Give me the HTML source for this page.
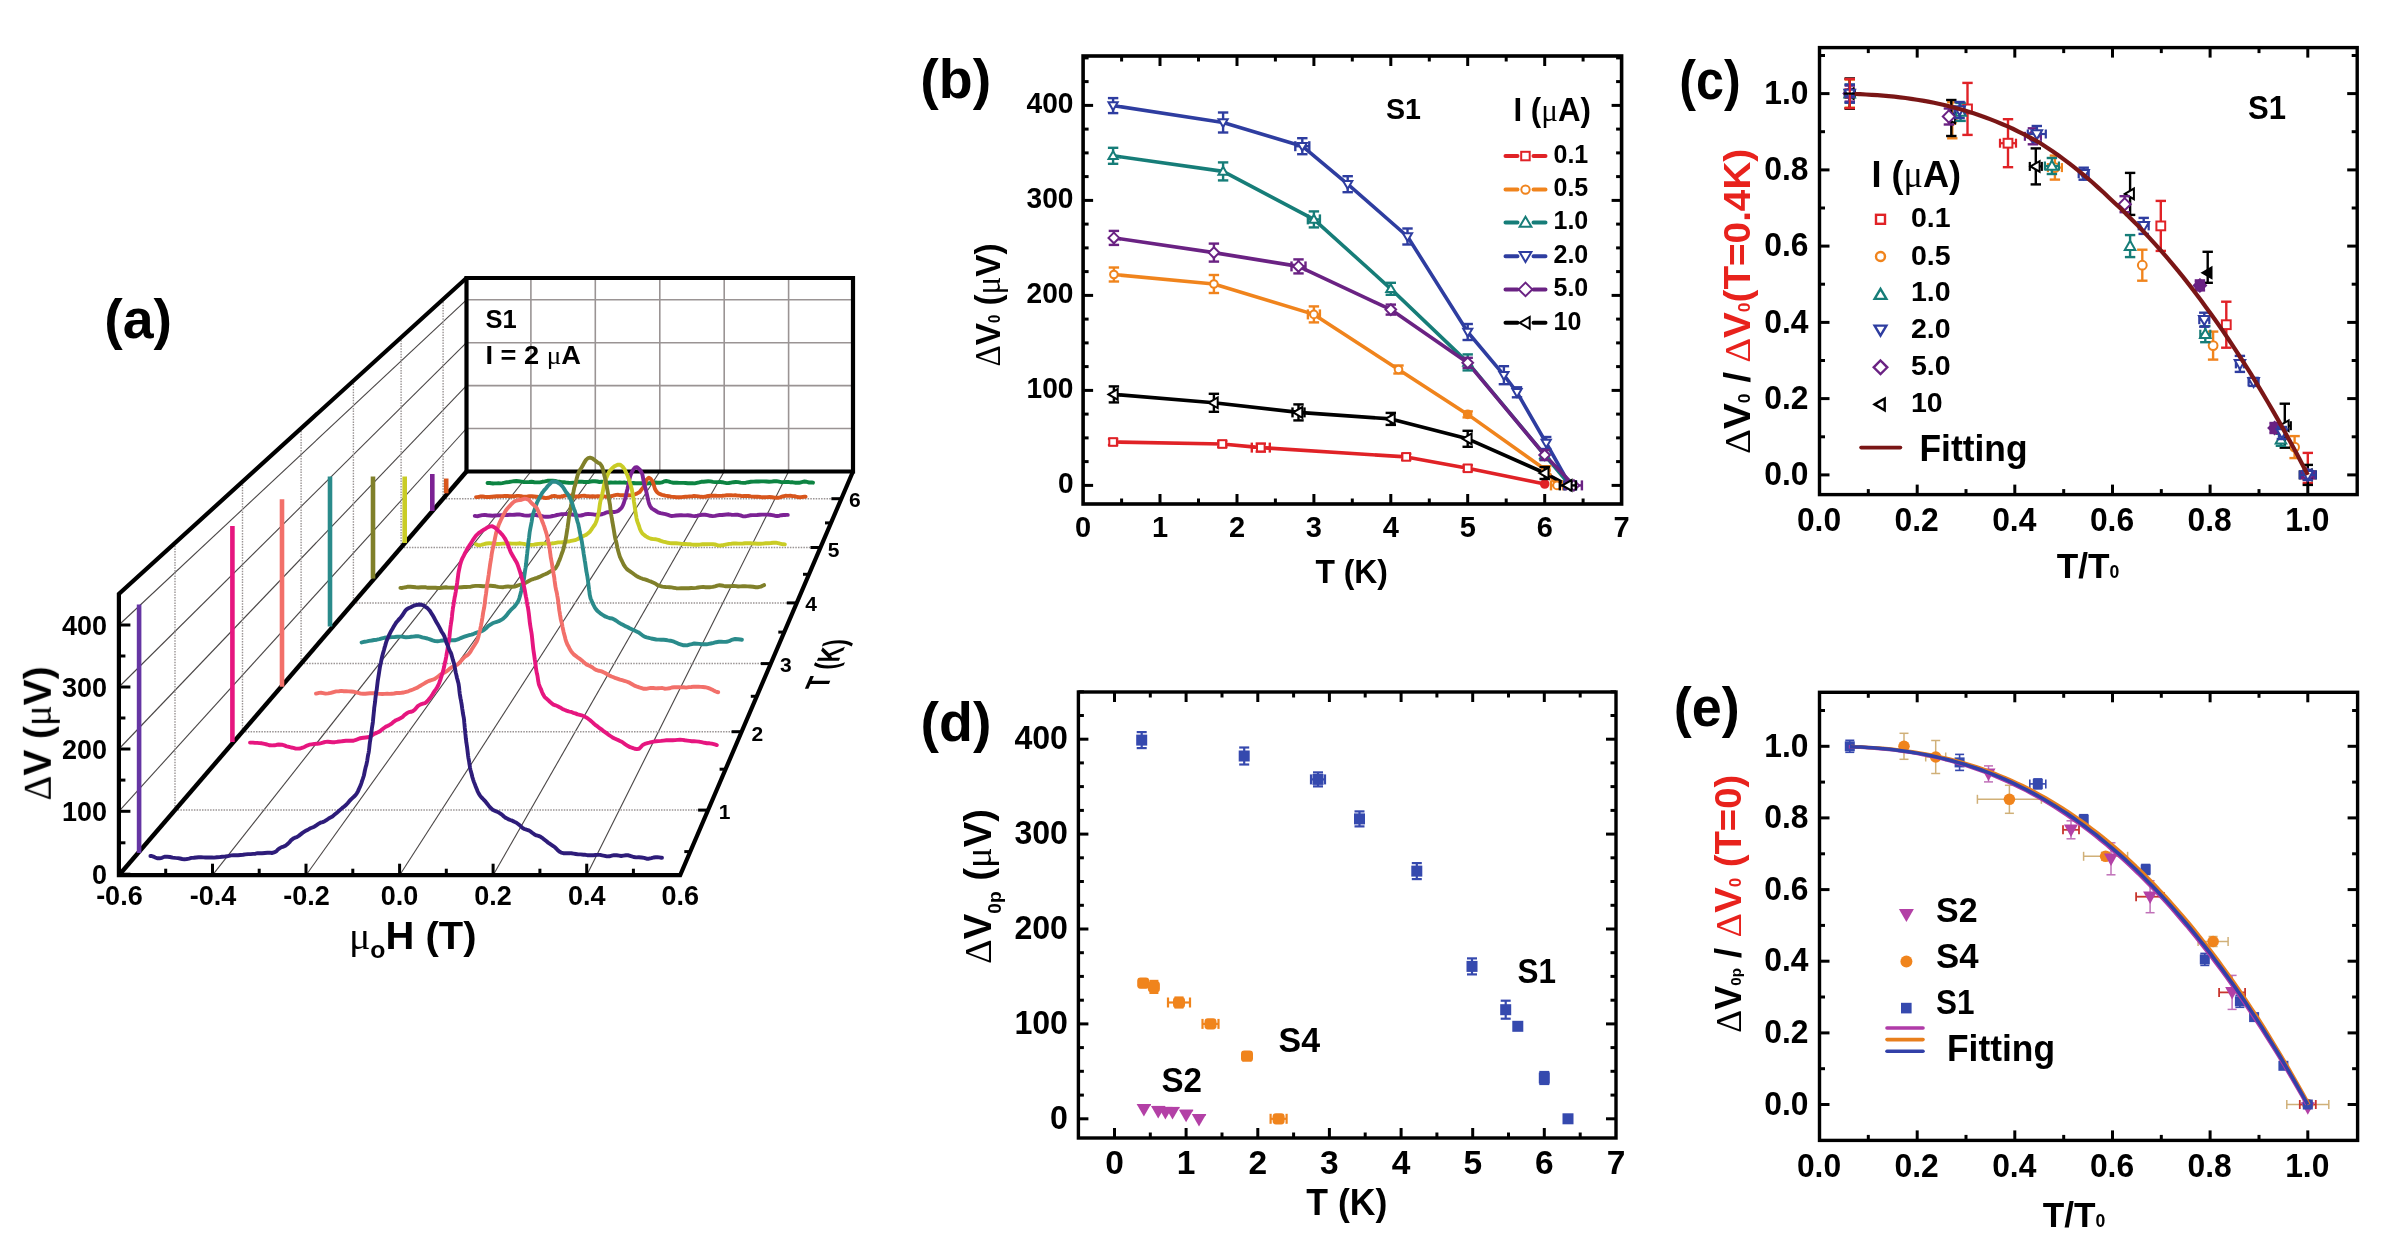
<!DOCTYPE html>
<html><head><meta charset="utf-8"><title>Figure</title>
<style>html,body{margin:0;padding:0;background:#fff;}svg{display:block;}text{font-family:"Liberation Sans",sans-serif;font-weight:bold;}</style></head><body>
<svg width="2395" height="1250" viewBox="0 0 2395 1250">
<defs><filter id="soft" x="0" y="0" width="2395" height="1250" filterUnits="userSpaceOnUse"><feGaussianBlur stdDeviation="0.45"/></filter></defs>
<rect width="2395" height="1250" fill="#fff"/>
<g filter="url(#soft)">
<g id="pa">
<line x1="530.9" y1="278" x2="530.9" y2="471.5" stroke="#9a9494" stroke-width="1.6" />
<line x1="595.3" y1="278" x2="595.3" y2="471.5" stroke="#9a9494" stroke-width="1.6" />
<line x1="659.8" y1="278" x2="659.8" y2="471.5" stroke="#9a9494" stroke-width="1.6" />
<line x1="724.2" y1="278" x2="724.2" y2="471.5" stroke="#9a9494" stroke-width="1.6" />
<line x1="788.6" y1="278" x2="788.6" y2="471.5" stroke="#9a9494" stroke-width="1.6" />
<line x1="466.5" y1="428.5" x2="853" y2="428.5" stroke="#9a9494" stroke-width="1.6" />
<line x1="466.5" y1="385.6" x2="853" y2="385.6" stroke="#9a9494" stroke-width="1.6" />
<line x1="466.5" y1="342.7" x2="853" y2="342.7" stroke="#9a9494" stroke-width="1.6" />
<line x1="466.5" y1="299.8" x2="853" y2="299.8" stroke="#9a9494" stroke-width="1.6" />
<line x1="118.9" y1="811.3" x2="466.5" y2="428.5" stroke="#4a4646" stroke-width="1.1" />
<line x1="118.9" y1="749" x2="466.5" y2="385.6" stroke="#4a4646" stroke-width="1.1" />
<line x1="118.9" y1="687" x2="466.5" y2="342.7" stroke="#4a4646" stroke-width="1.1" />
<line x1="118.9" y1="625" x2="466.5" y2="299.8" stroke="#4a4646" stroke-width="1.1" />
<line x1="175" y1="543" x2="175" y2="810.1" stroke="#9a9494" stroke-width="1.4" stroke-dasharray="1.5 1.2"/>
<line x1="242.5" y1="481.7" x2="242.5" y2="731.7" stroke="#9a9494" stroke-width="1.4" stroke-dasharray="1.5 1.2"/>
<line x1="301.1" y1="428.4" x2="301.1" y2="663.6" stroke="#9a9494" stroke-width="1.4" stroke-dasharray="1.5 1.2"/>
<line x1="353.4" y1="380.9" x2="353.4" y2="602.9" stroke="#9a9494" stroke-width="1.4" stroke-dasharray="1.5 1.2"/>
<line x1="401.1" y1="337.5" x2="401.1" y2="547.5" stroke="#9a9494" stroke-width="1.4" stroke-dasharray="1.5 1.2"/>
<line x1="443.1" y1="299.3" x2="443.1" y2="498.7" stroke="#9a9494" stroke-width="1.4" stroke-dasharray="1.5 1.2"/>
<line x1="212.5" y1="875.2" x2="530.9" y2="471.5" stroke="#4a4646" stroke-width="1.1" />
<line x1="306" y1="875.2" x2="595.3" y2="471.5" stroke="#4a4646" stroke-width="1.1" />
<line x1="399.6" y1="875.2" x2="659.8" y2="471.5" stroke="#4a4646" stroke-width="1.1" />
<line x1="493.1" y1="875.2" x2="724.2" y2="471.5" stroke="#4a4646" stroke-width="1.1" />
<line x1="586.7" y1="875.2" x2="788.6" y2="471.5" stroke="#4a4646" stroke-width="1.1" />
<line x1="175" y1="810.1" x2="708.1" y2="810.1" stroke="#9a9494" stroke-width="1.5" stroke-dasharray="1.5 1.2"/>
<line x1="242.5" y1="731.7" x2="741.6" y2="731.7" stroke="#9a9494" stroke-width="1.5" stroke-dasharray="1.5 1.2"/>
<line x1="301.1" y1="663.6" x2="770.8" y2="663.6" stroke="#9a9494" stroke-width="1.5" stroke-dasharray="1.5 1.2"/>
<line x1="353.4" y1="602.9" x2="796.8" y2="602.9" stroke="#9a9494" stroke-width="1.5" stroke-dasharray="1.5 1.2"/>
<line x1="401.1" y1="547.5" x2="820.5" y2="547.5" stroke="#9a9494" stroke-width="1.5" stroke-dasharray="1.5 1.2"/>
<line x1="443.1" y1="498.7" x2="841.4" y2="498.7" stroke="#9a9494" stroke-width="1.5" stroke-dasharray="1.5 1.2"/>
<path d="M466.5 471.5 L466.5 278 L853 278 L853 471.5 Z" fill="none" stroke="#000" stroke-width="4.2" stroke-linejoin="miter"/>
<path d="M466.5 278 L118.9 594 L118.9 875.2 L680.2 875.2 L853 471.5" fill="none" stroke="#000" stroke-width="4.2" stroke-linejoin="miter"/>
<line x1="118.9" y1="875.2" x2="466.5" y2="471.5" stroke="#000" stroke-width="4.4" />
<line x1="118.9" y1="874.2" x2="130.4" y2="874.2" stroke="#000" stroke-width="3" />
<line x1="118.9" y1="811.3" x2="130.4" y2="811.3" stroke="#000" stroke-width="3" />
<line x1="118.9" y1="749" x2="130.4" y2="749" stroke="#000" stroke-width="3" />
<line x1="118.9" y1="687" x2="130.4" y2="687" stroke="#000" stroke-width="3" />
<line x1="118.9" y1="625" x2="130.4" y2="625" stroke="#000" stroke-width="3" />
<line x1="118.9" y1="842.8" x2="125.4" y2="842.8" stroke="#000" stroke-width="3" />
<line x1="118.9" y1="780.1" x2="125.4" y2="780.1" stroke="#000" stroke-width="3" />
<line x1="118.9" y1="718" x2="125.4" y2="718" stroke="#000" stroke-width="3" />
<line x1="118.9" y1="656" x2="125.4" y2="656" stroke="#000" stroke-width="3" />
<line x1="165.7" y1="875.2" x2="165.7" y2="868.7" stroke="#000" stroke-width="3" />
<line x1="212.5" y1="875.2" x2="212.5" y2="863.7" stroke="#000" stroke-width="3" />
<line x1="259.2" y1="875.2" x2="259.2" y2="868.7" stroke="#000" stroke-width="3" />
<line x1="306" y1="875.2" x2="306" y2="863.7" stroke="#000" stroke-width="3" />
<line x1="352.8" y1="875.2" x2="352.8" y2="868.7" stroke="#000" stroke-width="3" />
<line x1="399.6" y1="875.2" x2="399.6" y2="863.7" stroke="#000" stroke-width="3" />
<line x1="446.3" y1="875.2" x2="446.3" y2="868.7" stroke="#000" stroke-width="3" />
<line x1="493.1" y1="875.2" x2="493.1" y2="863.7" stroke="#000" stroke-width="3" />
<line x1="539.9" y1="875.2" x2="539.9" y2="868.7" stroke="#000" stroke-width="3" />
<line x1="586.7" y1="875.2" x2="586.7" y2="863.7" stroke="#000" stroke-width="3" />
<line x1="633.4" y1="875.2" x2="633.4" y2="868.7" stroke="#000" stroke-width="3" />
<line x1="708.1" y1="810.1" x2="698.1" y2="810.1" stroke="#000" stroke-width="3" />
<line x1="741.6" y1="731.7" x2="731.6" y2="731.7" stroke="#000" stroke-width="3" />
<line x1="770.8" y1="663.6" x2="760.8" y2="663.6" stroke="#000" stroke-width="3" />
<line x1="796.8" y1="602.9" x2="786.8" y2="602.9" stroke="#000" stroke-width="3" />
<line x1="820.5" y1="547.5" x2="810.5" y2="547.5" stroke="#000" stroke-width="3" />
<line x1="841.4" y1="498.7" x2="831.4" y2="498.7" stroke="#000" stroke-width="3" />
<line x1="690.3" y1="851.6" x2="684.3" y2="851.6" stroke="#000" stroke-width="3" />
<line x1="725.6" y1="769.2" x2="719.6" y2="769.2" stroke="#000" stroke-width="3" />
<line x1="756.8" y1="696.3" x2="750.8" y2="696.3" stroke="#000" stroke-width="3" />
<line x1="784.3" y1="632.1" x2="778.3" y2="632.1" stroke="#000" stroke-width="3" />
<line x1="809" y1="574.3" x2="803" y2="574.3" stroke="#000" stroke-width="3" />
<line x1="831" y1="522.9" x2="825" y2="522.9" stroke="#000" stroke-width="3" />
<line x1="139.1" y1="604.4" x2="139.1" y2="853" stroke="#6535a3" stroke-width="4.6" />
<line x1="232.4" y1="525.9" x2="232.4" y2="742" stroke="#e6157f" stroke-width="4.6" />
<line x1="282" y1="499.3" x2="282" y2="686.7" stroke="#f26f6a" stroke-width="4.6" />
<line x1="330" y1="476.5" x2="330" y2="626.6" stroke="#2b8b8b" stroke-width="4.6" />
<line x1="373" y1="476.5" x2="373" y2="578.6" stroke="#80802a" stroke-width="4.6" />
<line x1="404.7" y1="476.5" x2="404.7" y2="543" stroke="#c9cc26" stroke-width="4.6" />
<line x1="432.3" y1="474" x2="432.3" y2="511" stroke="#7b2394" stroke-width="4.6" />
<line x1="446.2" y1="478.5" x2="446.2" y2="493.3" stroke="#d8561f" stroke-width="4.6" />
<path d="M487.5 483 L488.7 483 L490 483 L491.5 483.3 L493 483.5 L494.7 483.4 L496.5 483.4 L498.4 483.3 L500.4 483.4 L502.4 483.1 L504.6 482.7 L506.8 482.2 L509 482 L511.4 481.6 L513.8 481.2 L516.3 481 L518.8 481.2 L521.3 481.6 L523.9 482 L526.5 482.1 L529.1 482 L531.7 481.8 L534.4 482.2 L537 482.4 L539.6 482.4 L542.3 481.8 L544.9 481.4 L547.5 480.8 L550.1 480.7 L552.6 480.7 L555.1 481 L557.6 481.6 L560 481.8 L562.1 482.2 L564.3 482.3 L566.4 482.6 L568.6 482.8 L570.7 482.9 L572.9 482.8 L575.1 482.4 L577.3 481.9 L579.5 481.7 L581.7 481.6 L583.9 482 L586.1 482 L588.3 482 L590.6 481.5 L592.8 481.2 L595 481.3 L597.3 481.5 L599.5 482 L601.8 481.7 L604 482.2 L606.3 482.2 L608.5 482.8 L610.8 482.5 L613.1 482.6 L615.3 482.4 L617.6 482.6 L619.8 482.4 L622.1 482.6 L624.3 482.5 L626.6 482.9 L628.8 483 L631.1 483.3 L633.3 483 L635.5 483.3 L637.8 483.3 L640 483.2 L642.2 483.1 L644.4 483.2 L646.6 483.5 L648.8 483.3 L651 483 L653.2 482.7 L655.4 482.5 L657.5 482.7 L659.7 482.7 L661.9 482.4 L664 481.4 L666.2 481 L668.3 481.4 L670.5 482.2 L672.7 482.7 L674.8 482.7 L677 482.8 L679.2 482.9 L681.4 482.9 L683.6 482.9 L685.7 483 L687.9 483.2 L690.2 483.3 L692.4 483.2 L694.6 483.4 L696.8 482.9 L699.1 482.4 L701.3 481.8 L703.6 481.7 L705.9 481.5 L708.2 481.3 L710.5 481.4 L712.9 481.9 L715.2 482.1 L717.6 482.1 L720 481.9 L722.1 482.2 L724.2 482.7 L726.5 483.1 L728.7 483 L731.1 482.6 L733.4 482.2 L735.8 482 L738.3 482.1 L740.7 482.6 L743.3 482.9 L745.8 482.7 L748.3 482.2 L750.9 481.8 L753.5 481.6 L756.1 481.5 L758.7 481.5 L761.2 481.4 L763.8 481.4 L766.4 481.5 L769 481.8 L771.5 481.6 L774 481.3 L776.5 481.2 L779 481.7 L781.4 482.2 L783.8 482.1 L786.1 482 L788.4 481.9 L790.6 482.3 L792.8 482.3 L794.9 482.7 L797 482.6 L799 482.8 L800.9 482.3 L802.7 481.9 L804.5 481.5 L806.1 481.7 L807.7 482.1 L809.2 482.5 L810.6 482.5 L811.8 482.5 L813 482.7" fill="none" stroke="#0d8442" stroke-width="3.9" stroke-linejoin="round" stroke-linecap="round"/>
<path d="M476 497.1 L477.3 497.1 L478.8 496.8 L480.5 496.5 L482.5 496.5 L484.6 496.8 L486.9 497 L489.3 497 L491.8 496.7 L494.3 496.5 L496.9 496.3 L499.5 496.3 L502.2 496.1 L504.7 496 L507.3 495.9 L509.7 496.2 L512 496.3 L514.2 496.3 L516.5 495.9 L518.7 495.9 L520.9 496.1 L523 496.6 L525.2 496.6 L527.4 496.5 L529.6 496.3 L531.8 496.3 L534.1 496.5 L536.3 496.7 L538.6 496.9 L540.9 497.2 L543.2 497.5 L545.6 498.1 L548 497.8 L550.1 497.2 L552.2 496.1 L554.4 495.9 L556.7 496.4 L558.9 496.8 L561.2 496.5 L563.5 496 L565.9 495.4 L568.2 495.4 L570.5 495.6 L572.9 496.2 L575.2 496.5 L577.4 496.5 L579.7 496.2 L581.8 495.9 L584 495.8 L586.1 496 L588.1 496.1 L590 496.5 L592.7 496.3 L595.4 496.5 L598 496.1 L600.5 496.4 L603 496.2 L605.4 496.6 L607.7 496.5 L610 496.4 L612.1 496 L614.2 495.3 L616.2 494.9 L618.2 494.8 L620 495.2 L623.2 495.2 L626.1 495.4 L628.7 495.3 L631 495.4 L633.2 494.7 L635.1 494.3 L636.8 493.6 L639.7 492 L641.4 489.7 L642.8 487.9 L643.9 486.6 L644.8 484.7 L645.6 482.3 L646.4 479.9 L648.8 477.7 L650.5 478.6 L652.4 481.1 L653.2 483.1 L654.1 486 L654.9 488.7 L656 490.7 L657.4 492.5 L659 493.7 L662 494.8 L663.5 495.1 L665.1 495.6 L666.9 495.9 L668.9 496.2 L671.1 496.6 L673.7 496.9 L676.6 497.3 L680 497.2 L681.7 497.1 L683.5 496.9 L685.4 496.7 L687.4 496.6 L689.5 496.4 L691.7 496.4 L694 496 L696.3 496.1 L698.6 496.4 L701 496.8 L703.4 496.9 L705.9 496.5 L708.3 496 L710.7 495.7 L713.1 495.7 L715.4 495.8 L717.7 495.9 L720 495.9 L722.2 495.8 L724.4 495.6 L726.6 495.3 L728.8 495.2 L731 495.2 L733.1 495.4 L735.3 495.3 L737.5 495.6 L739.6 495.6 L741.8 496.1 L744 496 L746.3 496 L748.5 495.9 L750.7 496.4 L753 496.6 L755.3 496.8 L757.6 496.6 L760 496.9 L762.2 497.3 L764.5 497.3 L767 497.1 L769.5 496.9 L772.1 497.2 L774.7 497.6 L777.4 497.8 L780 497.3 L782.7 496.4 L785.3 495.8 L787.9 495.9 L790.4 495.8 L792.8 496.1 L795.1 496.3 L797.3 497 L799.3 497.2 L801.2 497.2 L802.9 496.9 L804.3 496.7 L805.6 496.6" fill="none" stroke="#d8561f" stroke-width="3.9" stroke-linejoin="round" stroke-linecap="round"/>
<path d="M474.8 515.9 L476.1 516.1 L477.9 516.2 L479.9 515.6 L482.2 515.1 L484.6 514.9 L487.2 515.3 L489.9 515.5 L492.5 515.7 L495.2 515.5 L497.7 515.4 L500 515.2 L502.4 515.3 L504.9 515 L507.3 515 L509.7 514.8 L512.1 514.9 L514.5 514.7 L516.8 514.5 L519.2 514.4 L521.6 514.8 L524 515.4 L526.4 515.6 L528.8 515.6 L531.2 515.2 L533.6 515 L536 515 L538.4 515.5 L540.8 515.9 L543.2 516.5 L545.6 516.7 L548 516.8 L550.3 516.6 L552.6 516 L554.8 515.6 L557 515 L559.2 514.6 L561.5 514.2 L563.9 514.1 L566.4 514 L569.1 514.2 L572 514.5 L574 514.9 L576.1 515.2 L578.4 515.6 L580.7 515.5 L583.2 515 L585.7 514.2 L588.2 513.9 L590.8 514.1 L593.3 514.4 L595.7 514.8 L598.1 514.6 L600.4 514.5 L602.6 514 L604.6 513.3 L606.4 512.4 L608 512.2 L612.1 511.9 L614.9 512 L616.9 511.4 L618.4 510.7 L620 509.3 L621.7 507.6 L622.9 505.4 L623.9 502.8 L624.8 499.8 L625.4 498 L625.9 495.8 L626.4 493.5 L626.9 491 L627.4 489.2 L627.9 486.9 L628.4 484.6 L629.1 480.7 L629.8 477.7 L630.5 475.3 L631.2 473.7 L632 471.9 L633.5 469.3 L635.2 467.4 L636.8 467.1 L638.4 468.3 L640.1 470 L641.6 472.6 L642.3 474.1 L642.8 476.7 L643.4 479.9 L644 483 L644.5 485.5 L645.2 487.4 L645.8 489.4 L646.4 492.2 L647.1 495.3 L647.8 498.5 L648.5 501.4 L649.2 504 L650 505.8 L651.7 508.3 L653.5 509.5 L656 511 L658 512.3 L660.4 513.2 L662.9 513.7 L665.5 514.2 L668 514.9 L670 515.6 L671.7 516 L673.5 515.9 L676.1 515.5 L680 515.2 L681.7 515.3 L683.5 515.4 L685.5 515.4 L687.7 515.3 L690 515.5 L692.3 515.9 L694.8 516.1 L697.3 515.7 L699.9 515.1 L702.5 514.7 L705.1 514.7 L707.6 515.1 L710.2 515.8 L712.6 516.1 L715 515.9 L717.3 515.4 L719.6 515 L722 515 L724.3 514.7 L726.6 514.5 L728.9 514.3 L731.2 514.7 L733.5 514.9 L735.8 514.7 L738.1 514.8 L740.5 515.4 L742.8 516.3 L745.2 516.4 L747.6 515.9 L750 515.3 L752.2 515.1 L754.5 515.1 L757 515 L759.5 514.8 L762.1 514.6 L764.7 514.6 L767.3 514.6 L769.8 514.7 L772.3 515.1 L774.8 515.7 L777.1 516 L779.4 515.7 L781.4 515.2 L783.4 515 L785.1 515 L786.6 514.9 L787.8 514.9" fill="none" stroke="#7b2394" stroke-width="3.9" stroke-linejoin="round" stroke-linecap="round"/>
<path d="M476 544.3 L477.4 544.9 L479.3 545.2 L481.4 544.8 L483.9 544.2 L486.5 543.5 L489.2 543.3 L492 543.4 L494.8 543.8 L497.5 544 L500 543.9 L502.4 543.6 L504.8 543.4 L507.2 543.5 L509.6 543.5 L512 543.6 L514.4 543.6 L516.8 543.7 L519.2 543.3 L521.6 543.6 L524 543.9 L526.4 544.7 L528.9 544.9 L531.4 544.9 L533.8 544.6 L536.3 544.2 L538.7 543.9 L541.2 543.6 L543.5 543.6 L545.8 543.6 L548 543.6 L550.7 543.6 L553.2 543.3 L555.8 542.8 L558.2 542.4 L560.6 542.4 L562.9 542.2 L565.1 542 L567.2 541.5 L569.9 541.2 L572.5 540.7 L575 540.2 L577.3 539.3 L579.5 538 L581.6 537 L583.9 535.7 L586 534.9 L587.8 533.5 L589.6 532 L591.2 529.9 L592.4 528 L593.6 526.3 L594.6 525 L595.5 523.3 L596.4 521.3 L597.2 518.4 L597.8 516.4 L598.2 514.5 L598.7 512.7 L599.1 510.1 L599.5 507.1 L599.9 504.1 L600.3 501.7 L600.8 499.8 L601.3 498 L601.9 495.9 L602.5 493.3 L603.1 490.2 L603.7 486.8 L604.4 483.7 L605 481.3 L605.6 479.7 L606.5 477.5 L607.4 475.3 L608.3 473.4 L609.3 471.4 L610.4 470.1 L612.6 467.8 L615.1 465.9 L617.6 464.7 L620 464.6 L622.5 466.5 L624.8 469.6 L625.7 471.9 L626.7 473.8 L627.6 475.8 L628.5 478.2 L629.3 480.6 L630.1 483.3 L630.8 485.4 L631.4 487.7 L631.9 489.6 L632.3 492.1 L632.7 494.3 L633.2 497 L633.6 499.3 L634 502 L634.4 504.3 L634.8 507.2 L635.2 510 L635.6 512.9 L636.1 515.6 L636.5 518.1 L636.9 520.1 L637.4 521.7 L638 523.3 L639 526 L639.9 529 L641.1 531.5 L642.4 533.5 L644 534.9 L646 536.4 L648.4 537.8 L650.9 538.8 L653.5 539.1 L656 539.3 L658.4 539.9 L660.8 540.9 L663.2 541.6 L665.6 542.2 L668 542.8 L670 543.1 L671.7 543.2 L673.5 543.1 L676.1 543.2 L680 543.6 L681.7 543.9 L683.5 544 L685.5 544 L687.7 544.2 L690 544.3 L692.3 544.6 L694.8 544.8 L697.3 544.8 L699.9 544.6 L702.5 544.3 L705.1 544.1 L707.6 544.2 L710.2 544.1 L712.6 544.1 L715 544.5 L717.3 545.1 L719.7 545.6 L722 545.3 L724.3 544.8 L726.7 544.3 L729 543.9 L731.3 543.7 L733.7 543.4 L736 543.5 L738.3 543.6 L740.7 543.6 L743 543.5 L745.3 543.2 L747.7 543.2 L750 543.2 L752.4 543.5 L754.9 543.5 L757.5 543.8 L760.2 543.8 L762.9 543.6 L765.6 543.3 L768.3 543.2 L770.9 543 L773.4 542.7 L775.8 542.6 L778 543.1 L780.1 543.7 L781.9 544.1 L783.5 544.2 L784.8 544.4" fill="none" stroke="#c9cc26" stroke-width="3.9" stroke-linejoin="round" stroke-linecap="round"/>
<path d="M400.4 587.9 L401.8 588 L403.5 587.6 L405.6 587.3 L407.9 586.7 L410.4 586.8 L413.1 587 L415.8 587.3 L418.5 587.5 L421.1 587.3 L423.6 587.3 L425.9 587.3 L428 587.8 L430.7 587.8 L433.2 587.8 L435.5 587.7 L437.6 588 L439.7 588 L441.7 587.8 L443.8 587.5 L446 587.3 L448.2 587.6 L450.4 587.6 L452.5 587.8 L454.6 587.6 L456.8 587.5 L459.1 587.4 L461.5 587.2 L464 587 L466.2 587 L468.4 586.9 L470.8 586.7 L473.2 586.1 L475.6 585.9 L478.1 585.9 L480.6 586 L483.1 586.2 L485.6 586.1 L488 585.9 L490.5 585.7 L493 586 L495.6 586.3 L498.2 586.9 L500.8 587.1 L503.3 587.2 L505.7 586.7 L508 586.4 L510.1 586.7 L512 586.8 L515.1 586.5 L517.3 585.6 L519.3 585 L521.3 584.4 L524 583.5 L525.9 582.7 L527.9 581.5 L530.1 580.3 L532.4 579.3 L534.8 578.5 L537.1 577.9 L539.3 576.9 L541.3 575.9 L543.2 575 L545.7 574 L547.9 572.9 L550 571.6 L551.8 570.6 L553.6 569.6 L555.2 568.6 L556.5 566.6 L557.7 564.5 L558.7 561.8 L559.7 559.6 L560.7 556.9 L561.5 554.5 L562.4 552 L562.9 550.7 L563.4 549.2 L563.9 547.3 L564.3 545.4 L564.7 543.5 L565.2 541.7 L565.6 539.6 L566 537.4 L566.4 535 L566.8 532.4 L567.2 529.9 L567.6 527.5 L567.9 525.1 L568.3 522.2 L568.7 519.4 L569 516.7 L569.4 514.4 L569.8 512.5 L570.2 510.6 L570.5 508.6 L570.9 506.4 L571.3 504.1 L571.6 501.7 L572 499.6 L572.5 496.8 L572.9 494.5 L573.4 492.2 L573.8 490.1 L574.2 488.1 L574.7 486.3 L575.2 484.8 L575.7 483 L576.2 480.8 L576.8 478.3 L577.7 475 L578.7 472.3 L579.8 470.1 L580.9 468.5 L582 466.9 L583 465 L584 463.1 L586 459.9 L588 458.1 L590 457.7 L592.4 458.4 L594.8 460.3 L597.2 462.1 L598.5 463 L599.7 463.4 L600.9 464.7 L602.1 466.7 L603.2 470.3 L603.7 472.7 L604.3 475.3 L604.8 477.2 L605.3 479.3 L605.8 481.1 L606.2 483.6 L606.7 486 L607.1 488.7 L607.6 491.1 L608 493.5 L608.4 495.7 L608.7 497.7 L609 499.5 L609.3 500.9 L609.6 502.7 L610 504.9 L610.3 507.7 L610.6 510.5 L610.9 512.9 L611.2 514.9 L611.6 517.2 L612 519.2 L612.3 521.5 L612.7 523.5 L613.1 525.8 L613.5 528.1 L613.9 530.5 L614.3 532.9 L614.7 535.4 L615.1 537.7 L615.5 539.5 L616 541 L616.4 542.6 L617 545.6 L617.5 548.1 L618.1 550.5 L618.7 552.7 L619.3 554.8 L619.9 556.8 L620.6 558.2 L621.5 560.2 L622.4 562 L623.8 564.9 L625.3 567.1 L626.9 569.1 L628.6 570.4 L630.4 571.6 L632.4 573 L634.4 574.5 L636.3 575.8 L638.3 577 L640.5 578 L642.6 578.8 L644.9 579.4 L647.1 580.2 L649.2 581 L651.2 581.7 L653.6 582.8 L655.6 583.7 L657.5 585.1 L659.7 585.9 L662.3 586.6 L665.6 587 L667.4 587.1 L669.4 587.2 L671.5 587.4 L673.8 587.8 L676.2 588.2 L678.6 588.4 L681.1 588.3 L683.6 588.3 L686.2 588.2 L688.7 588.3 L691.2 588 L693.6 588.1 L696 587.9 L698.3 587.5 L700.7 587.1 L703.1 586.9 L705.5 587.2 L707.9 587.1 L710.3 587.2 L712.7 586.8 L715 586.3 L717.3 585.6 L719.5 585.2 L721.6 585.5 L723.7 585.9 L725.6 586.2 L728.5 586.3 L731.2 586.1 L733.6 585.9 L736 586.1 L738.2 586.5 L740.4 586.4 L742.7 586.3 L745 586.2 L747.5 586.4 L750.2 586.5 L753 586.8 L755.8 587.2 L758.3 587.2 L760.7 586.7 L762.6 585.7 L764.1 585.1" fill="none" stroke="#80802a" stroke-width="3.9" stroke-linejoin="round" stroke-linecap="round"/>
<path d="M361.6 642.5 L363 642.1 L364.7 641.7 L366.8 641.4 L369.1 640.9 L371.6 640.5 L374.2 640 L376.8 639.7 L379.5 639.1 L382 638.3 L384.3 637.8 L386.8 637.5 L389.4 637.3 L392 637.1 L394.6 637 L397.2 636.8 L399.7 636.6 L402 636.6 L404.2 637 L406 637.2 L409.2 637.1 L411.2 636.8 L413 636.6 L416 636.2 L417.9 636.2 L420 636.6 L422.3 637.3 L424.8 637.9 L427.4 638.5 L430 639.4 L432.6 640.4 L435.1 641.1 L437.6 641.2 L440 640.9 L442.5 640.5 L445 640.4 L447.5 640.2 L449.9 640.3 L452.4 640.2 L454.7 640.3 L457 639.6 L459.2 638.8 L461.9 637.6 L464.4 636.7 L466.9 635.8 L469.2 635.2 L471.5 634.6 L473.8 633.8 L476 632.9 L478.2 632.2 L480.3 631.7 L482.3 631 L484.4 629.6 L486.4 627.9 L488.4 625.9 L490.4 624.6 L492.5 623.3 L494.6 622.5 L496.7 621.8 L498.8 621.2 L500.9 620.1 L502.9 618.9 L504.8 617.1 L506.7 615.1 L508.6 612.5 L510.4 610.4 L512.2 608.7 L513.9 607.1 L515.4 605.4 L516.8 603.4 L517.7 602 L518.6 600.4 L519.3 598.3 L520 595.9 L520.6 593.6 L521.2 591.1 L521.7 588.4 L522.3 586 L522.8 583.6 L523.2 582.3 L523.6 580.3 L524 578.5 L524.3 576 L524.6 573.9 L524.9 571.7 L525.2 569.9 L525.5 568.1 L525.8 565.9 L526.1 563.6 L526.4 560.6 L526.7 558.1 L526.9 555.7 L527.2 553.4 L527.4 551.4 L527.7 548.9 L527.9 546.8 L528.2 544.3 L528.4 542.3 L528.7 540.1 L529 538 L529.3 535.4 L529.6 532.8 L530 530.3 L530.4 528.2 L530.8 526.1 L531.2 524.1 L531.7 521.5 L532.1 518.7 L532.6 516 L533.1 513.9 L533.6 512.4 L534.2 510.8 L534.8 509.2 L535.4 507.1 L536 505.3 L537 502.6 L538.2 500.2 L539.4 497.8 L540.7 495.6 L541.9 493.3 L543.2 491.6 L544.4 490 L545.6 488.9 L547.8 486 L549.9 483.8 L551.9 481.8 L554 481.5 L556.1 481.7 L558.1 482.8 L560.2 484.1 L562.4 486.3 L563.6 488 L564.8 490 L566 492 L567.3 493.6 L568.5 495.6 L569.7 497.5 L570.9 500 L572 502.7 L572.7 505.1 L573.4 507.4 L574 509 L574.7 510.7 L575.3 512.5 L575.9 515.2 L576.5 518 L577.1 520.1 L577.6 522.1 L578.2 523.6 L578.7 526.1 L579.2 528.5 L579.7 531.5 L580.2 533.8 L580.6 536.3 L581 537.7 L581.4 539.5 L581.8 541.3 L582.2 544 L582.6 546.5 L582.9 548.7 L583.3 550.8 L583.6 553.2 L584 555.8 L584.4 558.1 L584.7 560.3 L585.1 562.3 L585.4 564.6 L585.7 566.7 L586 568.6 L586.3 571 L586.7 572.8 L587 574.7 L587.3 576 L587.6 578.1 L588 580.8 L588.3 583.9 L588.7 586.6 L589 589.3 L589.4 591.8 L589.7 594.6 L590.2 596.7 L590.6 598.5 L591.2 599.8 L592.3 602.6 L593.6 605.2 L595 607.8 L596.6 610 L598.4 611.8 L600 613.1 L601.8 614.3 L603.6 615.5 L605.7 616.7 L607.9 617.5 L610.4 618.3 L612.2 618.5 L614.2 619.5 L616.3 620.7 L618.4 622.3 L620.7 623.7 L622.9 624.8 L625.2 626.1 L627.4 627 L629.6 628.3 L631.7 629.3 L633.9 630.3 L636 631.2 L638.1 632.2 L640.3 633.7 L642.4 635.3 L644.5 636.6 L646.7 637.3 L648.8 637.8 L651.2 638.5 L653.7 639 L656.3 639.5 L658.8 639.6 L661.2 639.7 L663.6 639.8 L665.9 640 L668 640.4 L670.4 640.7 L672.2 641.2 L674 641.7 L675.8 642.5 L678.1 643.6 L681.2 644.6 L683 645.2 L684.9 645.3 L687.1 645.4 L689.4 644.7 L691.8 644.2 L694.3 643.5 L696.8 643.7 L699.3 643.9 L701.8 644.3 L704.2 644.3 L706.6 644.3 L708.8 643.9 L710.8 643.5 L713.6 642.9 L716.2 642.2 L718.8 641.8 L721.2 641.8 L723.6 641.9 L725.8 641.9 L727.9 641.5 L729.8 640.9 L731.6 639.8 L735.2 639 L738.1 639.2 L740.3 639.5 L741.9 639.7" fill="none" stroke="#2b8b8b" stroke-width="3.9" stroke-linejoin="round" stroke-linecap="round"/>
<path d="M316 693.6 L317.3 693.3 L319 692.9 L321 692.8 L323.2 693.1 L325.6 693.6 L328.2 693.4 L330.8 692.9 L333.5 692.1 L336.2 691.4 L338.9 691.2 L341.4 690.9 L343.8 691.2 L346 691.1 L348.6 691.4 L351.2 691.5 L353.6 691.7 L356 692.3 L358.4 692.9 L360.7 693.6 L363 693.7 L365.3 693.8 L367.6 693.5 L370 693.3 L372.4 693.2 L374.9 693.2 L377.4 693.6 L379.8 693.9 L382.3 694 L384.8 693.9 L387.2 693.7 L389.5 693.9 L391.8 693.7 L394 693.5 L396.6 693 L399.1 693 L401.5 692.8 L403.8 692.5 L406 691.8 L408.3 691.3 L410.6 690.3 L413 689.5 L415.2 688.5 L417.4 687.6 L419.6 686.2 L421.8 684.9 L424 683.6 L426.2 682.3 L428.4 681.1 L430.6 680.3 L432.8 679.7 L434.8 678.9 L436.7 677.5 L438.7 676.1 L440.6 674.5 L442.6 673.4 L444.5 672.5 L446.4 671.4 L448.3 670 L450.2 668.3 L452 667 L453.8 666.3 L455.6 665.6 L457.4 664.6 L459.2 663 L461 661 L462.7 659 L464.4 657.2 L465.9 656 L467.4 655.2 L468.8 653.8 L470.4 651.7 L471.8 649.3 L473.1 647.2 L474.4 645.2 L475.5 643.4 L476.5 641.9 L477.5 639.7 L478.4 636.9 L479 634.2 L479.6 631.8 L480.1 629.9 L480.5 628 L480.9 626.1 L481.3 623.8 L481.7 621.9 L482 619.9 L482.4 617.8 L482.8 615.1 L483.2 612.4 L483.5 610.9 L483.8 609.4 L484.2 607.5 L484.5 605.2 L484.8 602.9 L485.1 600.2 L485.4 597.8 L485.8 595.3 L486.1 593.3 L486.4 590.8 L486.7 588 L487 585.2 L487.4 582.9 L487.7 581.2 L488 579.4 L488.3 577.2 L488.7 574.7 L489 572.5 L489.3 570.3 L489.6 568.2 L489.9 565.9 L490.2 563.9 L490.6 561.7 L490.9 559.6 L491.3 557.2 L491.6 554.8 L492 552.4 L492.4 550.4 L492.8 548.5 L493.3 546.3 L493.8 543.9 L494.4 541.5 L494.9 538.7 L495.5 535.8 L496.1 533 L496.7 530.9 L497.3 529 L498 527.1 L498.6 525.1 L499.3 523.4 L500 521.9 L501.1 519.5 L502.2 517.3 L503.3 515 L504.5 512.9 L505.7 510.7 L507 509 L508.3 507.5 L509.6 506.1 L511.5 504 L513.5 502.1 L515.6 500.8 L517.7 500.3 L519.7 500 L521.6 499.7 L524.2 498.8 L526.6 498.9 L528.9 500 L531.2 502.6 L532.6 504.1 L534 505.3 L535.4 506.5 L536.9 508.2 L538.2 511.1 L539.6 514.2 L540.8 517.7 L541.6 519.6 L542.3 521.6 L543 523.1 L543.7 525.1 L544.4 526.9 L545 529.2 L545.7 531.1 L546.3 533.1 L546.9 535.3 L547.4 537.7 L548 540.2 L548.4 542.1 L548.9 544.1 L549.3 546.5 L549.7 549.1 L550 551.9 L550.4 554.5 L550.7 557.1 L551.1 559 L551.4 560.8 L551.7 562.4 L552.1 564.7 L552.4 567 L552.8 569.3 L553.2 571.3 L553.5 573.4 L553.9 575.6 L554.3 577.9 L554.6 580.7 L555 583.6 L555.4 586.4 L555.8 588.5 L556.1 590 L556.5 591.5 L556.9 593.3 L557.2 595.3 L557.6 597.5 L558 599.8 L558.3 602.4 L558.7 605.3 L559 608.1 L559.3 610.5 L559.7 612.6 L560 614.6 L560.4 616.8 L560.7 618.9 L561.1 620.5 L561.5 622.1 L562 623.9 L562.4 626.3 L563 629.1 L563.6 631.9 L564.2 634.2 L564.9 636.8 L565.5 639.3 L566.3 641.8 L567 643.6 L567.8 645.3 L568.7 646.8 L569.6 648.7 L571 651.1 L572.5 653 L574 654.6 L575.7 655.9 L577.5 657.3 L579.5 658.6 L581.6 660.2 L583.2 661.6 L585 663.2 L586.8 664.6 L588.8 665.5 L590.8 666.5 L592.8 667.7 L594.8 669.2 L596.8 670.2 L598.8 670.8 L600.8 671.1 L602.9 671.9 L605.1 673 L607.2 674.2 L609.3 675.4 L611.5 676.5 L613.6 677.3 L615.7 678.2 L617.9 678.9 L620 679.6 L622.1 680.2 L624.3 680.8 L626.5 681.5 L628.7 682.3 L630.8 683.5 L633 684.8 L635.1 685.9 L637.2 686.7 L639.2 687.4 L641.7 688.1 L643.9 688.8 L646.1 688.8 L648.3 688.3 L650.7 687.9 L653.2 688 L656 688.4 L658 688.2 L660.1 688.1 L662.3 688 L664.6 688.7 L667 688.6 L669.4 688.3 L671.8 687.5 L674.2 687.3 L676.6 687.3 L678.9 687.2 L681.2 687.4 L683.7 687.3 L686.2 687.6 L688.7 687.1 L691.3 687 L693.8 686.6 L696.2 686.8 L698.6 686.8 L700.8 686.9 L703 687 L704.9 687.2 L707.9 687.9 L710.6 688.9 L713 690.1 L715.1 691.3 L716.9 692 L718.2 692.2" fill="none" stroke="#f26f6a" stroke-width="3.9" stroke-linejoin="round" stroke-linecap="round"/>
<path d="M250 742.6 L251.3 742.6 L252.9 742.6 L254.9 742.9 L257.1 742.9 L259.4 743.1 L261.9 743.3 L264.5 743.9 L267.1 744.5 L269.7 745.3 L272.2 745.4 L274.6 745.3 L276.8 744.8 L278.8 744.5 L281.7 744.7 L284.3 745.4 L286.7 746.3 L289 746.8 L291.2 747.5 L293.4 747.9 L295.7 748.6 L298 748.6 L300.3 748.5 L302.6 747.7 L304.8 746.7 L307 745.6 L309.3 744.7 L311.7 744.3 L314.3 743.9 L317.2 743.7 L319.1 743.6 L321.2 743.2 L323.3 742.5 L325.5 741.9 L327.8 741.7 L330.1 742 L332.5 742.3 L334.8 742.2 L337.2 741.8 L339.5 741.5 L341.7 741.3 L343.9 741 L346 740.7 L348.4 740.6 L350.7 740.8 L352.9 740.8 L355.1 740.2 L357.2 739.4 L359.4 738.5 L361.5 738 L363.6 737.7 L365.7 737.5 L367.8 737.3 L370 736.6 L372 735.5 L374 734 L376 733.1 L378 732.3 L380 731.2 L382 729.6 L384 728 L386 726.6 L388 725.7 L390 724.6 L392 723.3 L394 721.6 L396 720.2 L398.1 719.4 L400.3 718.3 L402.4 717.1 L404.6 714.9 L406.8 713.3 L408.9 712.1 L410.9 711.8 L412.8 711.1 L414.7 709.7 L416.4 707.7 L418 705.9 L420.7 704.4 L423 703.7 L424.9 703.2 L426.6 701.9 L428.3 700.1 L430 698 L431.2 696.3 L432.4 694.5 L433.6 692.6 L434.7 690.9 L435.9 689.3 L436.9 687.7 L438 685.7 L439 683.5 L440 680.8 L440.7 678.8 L441.3 676.8 L441.9 675 L442.5 673.1 L443.1 671.2 L443.6 668.9 L444.2 666.5 L444.7 663.9 L445.3 661.5 L445.8 658.9 L446.3 656.3 L446.7 653.7 L447.2 651.1 L447.6 648.9 L447.9 646.4 L448.2 644.3 L448.6 642.1 L448.9 640.4 L449.2 638.6 L449.5 636.7 L449.7 634.2 L450 631.4 L450.3 628.7 L450.6 626.2 L450.9 624.3 L451.1 622.7 L451.4 621.2 L451.7 619.1 L452 616.4 L452.3 612.9 L452.7 610.1 L453 607.6 L453.4 605.6 L453.7 603.5 L454.1 601.2 L454.4 599 L454.7 597.1 L455.1 595.7 L455.4 593.6 L455.8 591.6 L456.1 589.1 L456.5 587.3 L456.8 585.3 L457.2 582.6 L457.6 579.4 L458 576.6 L458.3 573.9 L458.7 571.7 L459.1 569.7 L459.5 567.9 L459.9 565.9 L460.4 563.9 L461 562 L461.6 560.1 L462.6 557.9 L463.7 555.8 L464.8 553.5 L466.1 551.1 L467.4 548.5 L468.7 546.6 L470 544.6 L471.2 542.9 L472.8 540.1 L474.4 537.9 L476 535.7 L477.6 534.2 L479.2 532.6 L480.8 531.7 L483.2 530 L485.6 528.7 L488 527.1 L490.4 526.4 L492.3 526.2 L494.2 527.2 L496.2 528.6 L498.1 530.6 L500 532.3 L501.2 533.6 L502.4 534.8 L503.6 536.5 L504.8 538.3 L506 540.5 L507.2 542.9 L508.4 546 L509.6 549.2 L510.6 551.9 L511.6 553.8 L512.6 555.6 L513.6 557.2 L514.6 559.1 L515.5 560.5 L516.5 562.2 L517.4 564.1 L518.3 566.6 L519.2 569.3 L519.8 571.2 L520.5 573.4 L521.1 575.4 L521.7 577.8 L522.3 579.8 L522.8 581.9 L523.4 583.7 L523.9 586 L524.4 588.5 L525 591.5 L525.4 593.9 L525.9 596.6 L526.4 598.9 L526.8 601.5 L527.2 603.6 L527.5 605.6 L527.9 607.3 L528.2 609.2 L528.5 611.2 L528.8 613.4 L529.1 616 L529.4 618.8 L529.7 621.5 L530 623.9 L530.3 625.8 L530.6 627.7 L530.9 629.4 L531.2 631.2 L531.5 632.9 L531.8 635.1 L532.1 637.7 L532.4 640.7 L532.7 643.6 L533 646.5 L533.3 649.1 L533.6 651.3 L533.9 653.3 L534.2 655.3 L534.5 657.5 L534.8 659.6 L535.1 661.4 L535.4 663.5 L535.7 666 L536 668.6 L536.5 671.5 L536.9 673.6 L537.4 675.5 L537.8 678 L538.2 680.9 L538.7 683.4 L539.2 685.3 L539.7 686.4 L540.2 687.6 L540.8 688.8 L542 692 L543.2 694.6 L544.5 696.8 L546.1 698.3 L548 699.9 L549.6 701.5 L551.4 703.2 L553.4 704.6 L555.5 705.3 L557.7 706.2 L560 707.4 L562.4 708.9 L564.3 709.8 L566.4 710.6 L568.6 711.3 L570.9 711.8 L573.1 712.8 L575.4 713.4 L577.6 714.4 L579.7 714.8 L581.6 715.3 L583.9 716.2 L586.1 717.4 L588.1 718.7 L590.1 720.2 L592 721.9 L594 723.7 L596 725.4 L597.8 726.7 L599.6 728.1 L601.4 729.4 L603.2 730.8 L605 732.1 L606.8 733.4 L608.6 734.8 L610.4 736 L612.5 737.4 L614.6 738.5 L616.8 739.5 L618.9 740.4 L621 741.4 L623.1 742.7 L625 744.1 L627.6 745.8 L630.1 747.2 L632.4 747.9 L634.7 748.8 L636.8 749.1 L639 748.8 L640.7 747.1 L642.7 745 L645.7 743.6 L647.4 743.1 L649.3 742.7 L651.4 742.1 L653.6 741.6 L655.9 741.3 L658.4 741.1 L661 740.9 L663.6 740.6 L666.4 740.3 L668.4 740.3 L670.6 740.2 L672.8 740.2 L675.1 740.1 L677.5 739.9 L680 739.8 L682.4 739.9 L684.9 740.3 L687.2 740.6 L689.6 740.9 L691.8 741.2 L694 741.3 L696 741.4 L698.8 741.6 L701.6 742.2 L704.4 742.8 L707 743.2 L709.5 743.3 L711.7 743.7 L713.7 744.2 L715.5 744.7 L716.8 745.1" fill="none" stroke="#e6157f" stroke-width="3.9" stroke-linejoin="round" stroke-linecap="round"/>
<path d="M150.4 856 L151.7 856 L153.3 856.6 L155.2 857.5 L157.2 858.3 L159.5 858.3 L162 857.8 L164.5 856.8 L167.2 856.8 L169.9 857 L172.6 857.6 L175.3 857.9 L178 858.1 L180 858.5 L182.2 859 L184.4 859.3 L186.7 859 L189 858.6 L191.4 857.9 L193.8 857.8 L196.2 857.5 L198.6 857.3 L201 857.2 L203.4 857.4 L205.6 857.5 L207.9 857.5 L210 857.4 L212.1 857.5 L214 857.6 L216.9 857.3 L219.6 857.1 L222.1 856.7 L224.5 856.6 L226.8 856.3 L229 855.8 L231.2 855.4 L233.4 855.2 L235.7 855.3 L238 855.2 L240.4 855 L243 854.8 L245.5 854.4 L248.1 854.1 L250.6 854.1 L253.1 853.9 L255.5 853.7 L257.8 853.2 L260 853.1 L262 853.2 L264.9 853 L267.4 852.8 L269.7 852.6 L271.8 853 L274 852.4 L276.4 851.2 L278.1 849.3 L279.9 848.1 L281.7 847.1 L283.6 846.6 L285.4 845.7 L287.3 844.2 L289.3 842.4 L291.2 840.1 L293.2 838.6 L295 837.7 L296.8 837.1 L298.7 835.9 L300.6 834.4 L302.5 832.9 L304.4 831.7 L306.4 830.4 L308.4 829.4 L310.4 828.3 L312.4 827.5 L314.3 826.7 L316.3 825.3 L318.4 823.9 L320.5 822.7 L322.6 822.1 L324.7 821.2 L326.8 819.8 L328.7 818.5 L330.6 817.4 L332.4 816.5 L334 815.1 L336.6 813 L338.8 811.1 L340.7 809.4 L342.4 807.9 L344.2 806.5 L346 805 L347.6 803.2 L349.3 801.2 L351 799.4 L352.6 797.9 L354.1 796.5 L355.5 795.1 L356.8 793.3 L357.9 791.4 L358.9 789.1 L359.8 787.2 L360.6 785.3 L361.3 783.3 L362 781.1 L362.8 778.9 L363.3 777.4 L363.9 775.5 L364.4 773 L364.9 770.5 L365.4 768.4 L365.8 766.6 L366.3 765.1 L366.7 763.2 L367.2 760.8 L367.6 758 L368 755.7 L368.3 754.1 L368.7 752.3 L369 750.2 L369.3 747.6 L369.6 744.8 L369.9 742.3 L370.3 739.9 L370.6 737.9 L370.9 735.6 L371.2 733.3 L371.5 731.3 L371.8 729.2 L372 727.6 L372.3 725.8 L372.6 724.2 L372.9 721.9 L373.1 719.4 L373.4 716.5 L373.7 713.6 L374 710.8 L374.2 708.1 L374.5 705.9 L374.8 703.9 L375.1 701.8 L375.3 699.4 L375.6 696.8 L375.9 694.5 L376.1 692.6 L376.4 691.3 L376.7 689.9 L376.9 688.1 L377.2 685.5 L377.5 683 L377.8 680.6 L378.1 678.8 L378.4 676.9 L378.8 674.4 L379.2 671.7 L379.6 669.1 L380 666.7 L380.4 664.8 L380.9 662.6 L381.3 660.5 L381.8 658.2 L382.2 656.3 L382.7 654.5 L383.2 652.6 L383.9 650.2 L384.5 647.9 L385.2 645.6 L385.9 643.1 L386.6 640.9 L387.4 639 L388.3 637 L389.2 634.8 L390.2 632.8 L391.3 630.7 L392.5 628.8 L393.8 626.4 L395 624.5 L396.3 622.4 L397.6 621 L398.8 619.5 L400.4 617.9 L402 615.8 L403.6 613.4 L405.2 610.9 L406.8 609.2 L408.4 608.3 L410.8 607.2 L413.1 606 L415.5 605.1 L418 604.7 L419.8 604.5 L421.6 604.9 L423.5 605.4 L425.4 606.8 L427.5 608.2 L429.6 610.5 L430.6 611.9 L431.7 613.7 L432.9 615.6 L434.1 617.8 L435.3 620.1 L436.5 622.3 L437.7 624.3 L438.9 626.4 L440.1 628.6 L441.2 630.9 L442.3 632.7 L443.4 634.4 L444.4 636.4 L445.3 639.2 L446.1 641.7 L447 643.9 L447.8 645.7 L448.6 647.9 L449.3 649.8 L450.1 651.4 L450.8 652.7 L451.5 654.7 L452.2 657.2 L452.8 659.6 L453.5 661.9 L454.2 664.2 L454.8 667.3 L455.3 670 L455.7 672.4 L456.2 674.4 L456.6 676 L457 678 L457.5 679.8 L457.9 681.4 L458.3 682.7 L458.7 684.7 L459.1 687.6 L459.4 690.8 L459.8 694 L460.2 696.4 L460.5 698.4 L460.9 700 L461.2 701.9 L461.6 704.1 L461.9 706.3 L462.2 708.5 L462.6 710.9 L462.9 713.2 L463.2 714.8 L463.5 716.3 L463.8 717.8 L464.1 720.3 L464.3 722.9 L464.6 725.7 L464.8 728 L465.1 730.6 L465.3 733.2 L465.6 735.9 L465.8 738.3 L466.1 740.3 L466.3 742.4 L466.6 743.9 L466.9 746.1 L467.2 748.1 L467.5 750.7 L467.8 753.3 L468.1 755.8 L468.4 757.8 L468.7 759.4 L469 760.9 L469.3 763.1 L469.7 765.5 L470.1 768.1 L470.5 769.9 L471 771.7 L471.7 774.2 L472.4 777.2 L473.2 779.8 L474 782.1 L474.8 784.1 L475.7 786.5 L476.7 788.9 L477.7 791.5 L478.8 793.7 L479.9 795.3 L481.2 797.1 L482.6 798.5 L484.1 800.1 L485.6 801.7 L487.2 803.7 L488.9 805.9 L490.7 808 L492.6 809.7 L494.7 810.7 L496.4 811.5 L498.1 812.1 L500 813.3 L501.9 814.6 L503.9 816.5 L506 818.1 L508.1 819.1 L510.2 820 L512.3 820.7 L514.3 821.8 L516.4 822.7 L518.4 824.2 L520.4 825.8 L522.4 827.8 L524.4 829 L526.5 829.7 L528.5 830.3 L530.5 831.4 L532.5 833 L534.5 834.4 L536.5 835.4 L538.4 835.9 L540.3 836.6 L542.1 837.8 L544.2 839.5 L546.2 841.1 L548.1 842.6 L550 843.9 L551.8 845.1 L553.6 846.3 L555.5 847.8 L557.3 849.7 L559.3 851.5 L561.3 852.7 L563.3 853.2 L565.3 853.2 L567.3 853.2 L569.3 853.1 L571.4 853.3 L573.5 853.6 L575.8 854 L578.2 854.4 L580.7 854.4 L583.5 854.7 L585.3 854.8 L587.3 855.2 L589.2 855.2 L591.3 855.3 L593.4 855.2 L595.5 855 L597.8 854.9 L600 854.9 L602.3 855.4 L604.6 855.8 L607 856.4 L609.4 856.3 L611.8 855.7 L614.2 855.1 L616.6 855.2 L619.1 855.6 L621.2 856 L623.5 855.6 L625.9 855.3 L628.4 855.3 L631 856.2 L633.6 857 L636.2 857.4 L638.8 857.3 L641.5 857.5 L644.1 857.9 L646.6 858.7 L649 858.7 L651.4 858.2 L653.6 857.5 L655.7 857.2 L657.6 857.3 L659.3 857.4 L660.7 857.7 L662 857.7" fill="none" stroke="#2e1f7a" stroke-width="3.9" stroke-linejoin="round" stroke-linecap="round"/>
<text x="107" y="884" font-size="27" text-anchor="end" fill="#000" >0</text>
<text x="107" y="821.1" font-size="27" text-anchor="end" fill="#000" >100</text>
<text x="107" y="758.8" font-size="27" text-anchor="end" fill="#000" >200</text>
<text x="107" y="696.8" font-size="27" text-anchor="end" fill="#000" >300</text>
<text x="107" y="634.8" font-size="27" text-anchor="end" fill="#000" >400</text>
<text x="119.4" y="905" font-size="27" text-anchor="middle" fill="#000" >-0.6</text>
<text x="213" y="905" font-size="27" text-anchor="middle" fill="#000" >-0.4</text>
<text x="306.5" y="905" font-size="27" text-anchor="middle" fill="#000" >-0.2</text>
<text x="399.6" y="905" font-size="27" text-anchor="middle" fill="#000" >0.0</text>
<text x="493.1" y="905" font-size="27" text-anchor="middle" fill="#000" >0.2</text>
<text x="586.7" y="905" font-size="27" text-anchor="middle" fill="#000" >0.4</text>
<text x="680.2" y="905" font-size="27" text-anchor="middle" fill="#000" >0.6</text>
<text x="854.8" y="507.2" font-size="21" text-anchor="middle" fill="#000" >6</text>
<text x="833.6" y="556.6" font-size="21" text-anchor="middle" fill="#000" >5</text>
<text x="811.1" y="611.4" font-size="21" text-anchor="middle" fill="#000" >4</text>
<text x="785.9" y="671.9" font-size="21" text-anchor="middle" fill="#000" >3</text>
<text x="757.3" y="741.4" font-size="21" text-anchor="middle" fill="#000" >2</text>
<text x="724.7" y="818.8" font-size="21" text-anchor="middle" fill="#000" >1</text>
<text x="485.5" y="327.5" font-size="25.5" text-anchor="start" fill="#000" >S1</text>
<text x="485.5" y="364" font-size="25.5" text-anchor="start" fill="#000" textLength="95.5" lengthAdjust="spacingAndGlyphs" >I = 2 <tspan font-family="Liberation Serif" font-weight="normal" font-size="1.0em">μ</tspan>A</text>
<text x="412.7" y="948.5" font-size="38" text-anchor="middle" fill="#000" textLength="127.5" lengthAdjust="spacingAndGlyphs" ><tspan font-family="Liberation Serif" font-weight="normal" font-size="1.0em">μ</tspan><tspan font-size="23.6" dy="9.5">o</tspan><tspan dy="-9.5">H (T)</tspan></text>
<text x="50.3" y="733.5" font-size="39.5" text-anchor="middle" fill="#000" textLength="134" lengthAdjust="spacingAndGlyphs" transform="rotate(-90 50.3 733.5)" ><tspan font-family="Liberation Serif" font-weight="normal" font-size="1.0em">Δ</tspan>V (<tspan font-family="Liberation Serif" font-weight="normal" font-size="1.0em">μ</tspan>V)</text>
<text transform="matrix(0.394 -0.919 1.345 0 837.5 664)" x="0" y="0" font-size="23.8" text-anchor="middle">T (K)</text>
<text x="138.2" y="338.3" font-size="55.5" text-anchor="middle" fill="#000" >(a)</text>
</g>
<g id="pb">
<path d="M1113.1 442 L1222.3 444 L1260.8 447.6 L1406.2 456.9 L1467.7 468.3 L1544.7 484" fill="none" stroke="#e02128" stroke-width="3.6" stroke-linejoin="round"/>
<path d="M1113.9 274.5 L1213.9 284 L1313.9 314.4 L1398.5 369.5 L1467.7 414.4 L1546.2 470.2 L1557 485.4" fill="none" stroke="#f0841f" stroke-width="3.6" stroke-linejoin="round"/>
<path d="M1113.1 155.8 L1223.1 171.4 L1313.9 219.4 L1390.8 288.8 L1467.7 362.4 L1544.7 455 L1570.1 485.4" fill="none" stroke="#177d78" stroke-width="3.6" stroke-linejoin="round"/>
<path d="M1113.1 105.6 L1223.1 122.5 L1302.3 146.2 L1347.7 184.2 L1407.5 236.5 L1467.7 332 L1503.9 375.2 L1517 392.3 L1546.2 443 L1570.1 485.4" fill="none" stroke="#2f3da0" stroke-width="3.6" stroke-linejoin="round"/>
<path d="M1113.9 237.9 L1213.9 252.6 L1298.5 266.4 L1390.8 309.6 L1467.7 362.8 L1544.7 455 L1573.9 485.4" fill="none" stroke="#6a2283" stroke-width="3.6" stroke-linejoin="round"/>
<path d="M1113.9 394.4 L1213.9 402.8 L1298.5 412.4 L1390.8 418.9 L1467.7 438.8 L1544.7 473 L1567.8 485.4" fill="none" stroke="#000" stroke-width="3.6" stroke-linejoin="round"/>
<line x1="1113.1" y1="439" x2="1113.1" y2="445" stroke="#e02128" stroke-width="2.4" />
<line x1="1107.9" y1="439" x2="1118.3" y2="439" stroke="#e02128" stroke-width="2.4" />
<line x1="1107.9" y1="445" x2="1118.3" y2="445" stroke="#e02128" stroke-width="2.4" />
<rect x="1109.3" y="438.2" width="7.6" height="7.6" fill="#fff" stroke="#e02128" stroke-width="2"/>
<line x1="1222.3" y1="441" x2="1222.3" y2="447" stroke="#e02128" stroke-width="2.4" />
<line x1="1217.1" y1="441" x2="1227.5" y2="441" stroke="#e02128" stroke-width="2.4" />
<line x1="1217.1" y1="447" x2="1227.5" y2="447" stroke="#e02128" stroke-width="2.4" />
<rect x="1218.5" y="440.2" width="7.6" height="7.6" fill="#fff" stroke="#e02128" stroke-width="2"/>
<line x1="1260.8" y1="443.6" x2="1260.8" y2="451.6" stroke="#e02128" stroke-width="2.4" />
<line x1="1255.6" y1="443.6" x2="1266" y2="443.6" stroke="#e02128" stroke-width="2.4" />
<line x1="1255.6" y1="451.6" x2="1266" y2="451.6" stroke="#e02128" stroke-width="2.4" />
<line x1="1251.8" y1="447.6" x2="1269.8" y2="447.6" stroke="#e02128" stroke-width="2.4" />
<line x1="1251.8" y1="442.6" x2="1251.8" y2="452.6" stroke="#e02128" stroke-width="2.4" />
<line x1="1269.8" y1="442.6" x2="1269.8" y2="452.6" stroke="#e02128" stroke-width="2.4" />
<rect x="1257" y="443.8" width="7.6" height="7.6" fill="#fff" stroke="#e02128" stroke-width="2"/>
<line x1="1406.2" y1="453.9" x2="1406.2" y2="459.9" stroke="#e02128" stroke-width="2.4" />
<line x1="1401" y1="453.9" x2="1411.4" y2="453.9" stroke="#e02128" stroke-width="2.4" />
<line x1="1401" y1="459.9" x2="1411.4" y2="459.9" stroke="#e02128" stroke-width="2.4" />
<rect x="1402.4" y="453.1" width="7.6" height="7.6" fill="#fff" stroke="#e02128" stroke-width="2"/>
<line x1="1467.7" y1="465.3" x2="1467.7" y2="471.3" stroke="#e02128" stroke-width="2.4" />
<line x1="1462.5" y1="465.3" x2="1472.9" y2="465.3" stroke="#e02128" stroke-width="2.4" />
<line x1="1462.5" y1="471.3" x2="1472.9" y2="471.3" stroke="#e02128" stroke-width="2.4" />
<rect x="1463.9" y="464.5" width="7.6" height="7.6" fill="#fff" stroke="#e02128" stroke-width="2"/>
<circle cx="1544.7" cy="484" r="3.8" fill="#e02128" stroke="#e02128" stroke-width="2"/>
<line x1="1113.9" y1="267.5" x2="1113.9" y2="281.5" stroke="#f0841f" stroke-width="2.4" />
<line x1="1108.7" y1="267.5" x2="1119.1" y2="267.5" stroke="#f0841f" stroke-width="2.4" />
<line x1="1108.7" y1="281.5" x2="1119.1" y2="281.5" stroke="#f0841f" stroke-width="2.4" />
<circle cx="1113.9" cy="274.5" r="3.8" fill="#fff" stroke="#f0841f" stroke-width="2"/>
<line x1="1213.9" y1="275" x2="1213.9" y2="293" stroke="#f0841f" stroke-width="2.4" />
<line x1="1208.7" y1="275" x2="1219.1" y2="275" stroke="#f0841f" stroke-width="2.4" />
<line x1="1208.7" y1="293" x2="1219.1" y2="293" stroke="#f0841f" stroke-width="2.4" />
<circle cx="1213.9" cy="284" r="3.8" fill="#fff" stroke="#f0841f" stroke-width="2"/>
<line x1="1313.9" y1="306.4" x2="1313.9" y2="322.4" stroke="#f0841f" stroke-width="2.4" />
<line x1="1308.7" y1="306.4" x2="1319.1" y2="306.4" stroke="#f0841f" stroke-width="2.4" />
<line x1="1308.7" y1="322.4" x2="1319.1" y2="322.4" stroke="#f0841f" stroke-width="2.4" />
<line x1="1307.9" y1="314.4" x2="1319.9" y2="314.4" stroke="#f0841f" stroke-width="2.4" />
<line x1="1307.9" y1="309.4" x2="1307.9" y2="319.4" stroke="#f0841f" stroke-width="2.4" />
<line x1="1319.9" y1="309.4" x2="1319.9" y2="319.4" stroke="#f0841f" stroke-width="2.4" />
<circle cx="1313.9" cy="314.4" r="3.8" fill="#fff" stroke="#f0841f" stroke-width="2"/>
<line x1="1398.5" y1="365.5" x2="1398.5" y2="373.5" stroke="#f0841f" stroke-width="2.4" />
<line x1="1393.3" y1="365.5" x2="1403.7" y2="365.5" stroke="#f0841f" stroke-width="2.4" />
<line x1="1393.3" y1="373.5" x2="1403.7" y2="373.5" stroke="#f0841f" stroke-width="2.4" />
<circle cx="1398.5" cy="369.5" r="3.8" fill="#fff" stroke="#f0841f" stroke-width="2"/>
<line x1="1467.7" y1="411.4" x2="1467.7" y2="417.4" stroke="#f0841f" stroke-width="2.4" />
<line x1="1462.5" y1="411.4" x2="1472.9" y2="411.4" stroke="#f0841f" stroke-width="2.4" />
<line x1="1462.5" y1="417.4" x2="1472.9" y2="417.4" stroke="#f0841f" stroke-width="2.4" />
<circle cx="1467.7" cy="414.4" r="3.8" fill="#f0841f" stroke="#f0841f" stroke-width="2"/>
<line x1="1546.2" y1="466.2" x2="1546.2" y2="474.2" stroke="#f0841f" stroke-width="2.4" />
<line x1="1541" y1="466.2" x2="1551.4" y2="466.2" stroke="#f0841f" stroke-width="2.4" />
<line x1="1541" y1="474.2" x2="1551.4" y2="474.2" stroke="#f0841f" stroke-width="2.4" />
<circle cx="1546.2" cy="470.2" r="3.8" fill="#fff" stroke="#f0841f" stroke-width="2"/>
<line x1="1551" y1="485.4" x2="1563" y2="485.4" stroke="#f0841f" stroke-width="2.4" />
<line x1="1551" y1="480.4" x2="1551" y2="490.4" stroke="#f0841f" stroke-width="2.4" />
<line x1="1563" y1="480.4" x2="1563" y2="490.4" stroke="#f0841f" stroke-width="2.4" />
<circle cx="1557" cy="485.4" r="3.8" fill="#fff" stroke="#f0841f" stroke-width="2"/>
<line x1="1113.1" y1="147.8" x2="1113.1" y2="163.8" stroke="#177d78" stroke-width="2.4" />
<line x1="1107.9" y1="147.8" x2="1118.3" y2="147.8" stroke="#177d78" stroke-width="2.4" />
<line x1="1107.9" y1="163.8" x2="1118.3" y2="163.8" stroke="#177d78" stroke-width="2.4" />
<path d="M1113.1 151.2 L1117.7 159.1 L1108.5 159.1 Z" fill="#fff" stroke="#177d78" stroke-width="2" stroke-linejoin="miter"/>
<line x1="1223.1" y1="162.4" x2="1223.1" y2="180.4" stroke="#177d78" stroke-width="2.4" />
<line x1="1217.9" y1="162.4" x2="1228.3" y2="162.4" stroke="#177d78" stroke-width="2.4" />
<line x1="1217.9" y1="180.4" x2="1228.3" y2="180.4" stroke="#177d78" stroke-width="2.4" />
<path d="M1223.1 166.8 L1227.7 174.7 L1218.5 174.7 Z" fill="#fff" stroke="#177d78" stroke-width="2" stroke-linejoin="miter"/>
<line x1="1313.9" y1="211.4" x2="1313.9" y2="227.4" stroke="#177d78" stroke-width="2.4" />
<line x1="1308.7" y1="211.4" x2="1319.1" y2="211.4" stroke="#177d78" stroke-width="2.4" />
<line x1="1308.7" y1="227.4" x2="1319.1" y2="227.4" stroke="#177d78" stroke-width="2.4" />
<line x1="1307.9" y1="219.4" x2="1319.9" y2="219.4" stroke="#177d78" stroke-width="2.4" />
<line x1="1307.9" y1="214.4" x2="1307.9" y2="224.4" stroke="#177d78" stroke-width="2.4" />
<line x1="1319.9" y1="214.4" x2="1319.9" y2="224.4" stroke="#177d78" stroke-width="2.4" />
<path d="M1313.9 214.8 L1318.5 222.7 L1309.3 222.7 Z" fill="#fff" stroke="#177d78" stroke-width="2" stroke-linejoin="miter"/>
<line x1="1390.8" y1="282.8" x2="1390.8" y2="294.8" stroke="#177d78" stroke-width="2.4" />
<line x1="1385.6" y1="282.8" x2="1396" y2="282.8" stroke="#177d78" stroke-width="2.4" />
<line x1="1385.6" y1="294.8" x2="1396" y2="294.8" stroke="#177d78" stroke-width="2.4" />
<path d="M1390.8 284.2 L1395.4 292.1 L1386.2 292.1 Z" fill="#fff" stroke="#177d78" stroke-width="2" stroke-linejoin="miter"/>
<line x1="1467.7" y1="354.4" x2="1467.7" y2="370.4" stroke="#177d78" stroke-width="2.4" />
<line x1="1462.5" y1="354.4" x2="1472.9" y2="354.4" stroke="#177d78" stroke-width="2.4" />
<line x1="1462.5" y1="370.4" x2="1472.9" y2="370.4" stroke="#177d78" stroke-width="2.4" />
<path d="M1467.7 357.8 L1472.3 365.7 L1463.2 365.7 Z" fill="#fff" stroke="#177d78" stroke-width="2" stroke-linejoin="miter"/>
<line x1="1544.7" y1="450" x2="1544.7" y2="460" stroke="#177d78" stroke-width="2.4" />
<line x1="1539.5" y1="450" x2="1549.9" y2="450" stroke="#177d78" stroke-width="2.4" />
<line x1="1539.5" y1="460" x2="1549.9" y2="460" stroke="#177d78" stroke-width="2.4" />
<path d="M1544.7 450.4 L1549.3 458.3 L1540.1 458.3 Z" fill="#fff" stroke="#177d78" stroke-width="2" stroke-linejoin="miter"/>
<line x1="1565.1" y1="485.4" x2="1575.1" y2="485.4" stroke="#177d78" stroke-width="2.4" />
<line x1="1565.1" y1="480.4" x2="1565.1" y2="490.4" stroke="#177d78" stroke-width="2.4" />
<line x1="1575.1" y1="480.4" x2="1575.1" y2="490.4" stroke="#177d78" stroke-width="2.4" />
<path d="M1570.1 480.8 L1574.6 488.7 L1565.5 488.7 Z" fill="#fff" stroke="#177d78" stroke-width="2" stroke-linejoin="miter"/>
<line x1="1113.1" y1="98.1" x2="1113.1" y2="113.1" stroke="#2f3da0" stroke-width="2.4" />
<line x1="1107.9" y1="98.1" x2="1118.3" y2="98.1" stroke="#2f3da0" stroke-width="2.4" />
<line x1="1107.9" y1="113.1" x2="1118.3" y2="113.1" stroke="#2f3da0" stroke-width="2.4" />
<path d="M1113.1 110.2 L1117.7 102.3 L1108.5 102.3 Z" fill="#fff" stroke="#2f3da0" stroke-width="2" stroke-linejoin="miter"/>
<line x1="1223.1" y1="112.5" x2="1223.1" y2="132.5" stroke="#2f3da0" stroke-width="2.4" />
<line x1="1217.9" y1="112.5" x2="1228.3" y2="112.5" stroke="#2f3da0" stroke-width="2.4" />
<line x1="1217.9" y1="132.5" x2="1228.3" y2="132.5" stroke="#2f3da0" stroke-width="2.4" />
<path d="M1223.1 127.1 L1227.7 119.2 L1218.5 119.2 Z" fill="#fff" stroke="#2f3da0" stroke-width="2" stroke-linejoin="miter"/>
<line x1="1302.3" y1="138.2" x2="1302.3" y2="154.2" stroke="#2f3da0" stroke-width="2.4" />
<line x1="1297.1" y1="138.2" x2="1307.5" y2="138.2" stroke="#2f3da0" stroke-width="2.4" />
<line x1="1297.1" y1="154.2" x2="1307.5" y2="154.2" stroke="#2f3da0" stroke-width="2.4" />
<line x1="1295.3" y1="146.2" x2="1309.3" y2="146.2" stroke="#2f3da0" stroke-width="2.4" />
<line x1="1295.3" y1="141.2" x2="1295.3" y2="151.2" stroke="#2f3da0" stroke-width="2.4" />
<line x1="1309.3" y1="141.2" x2="1309.3" y2="151.2" stroke="#2f3da0" stroke-width="2.4" />
<path d="M1302.3 150.8 L1306.9 142.9 L1297.8 142.9 Z" fill="#fff" stroke="#2f3da0" stroke-width="2" stroke-linejoin="miter"/>
<line x1="1347.7" y1="176.2" x2="1347.7" y2="192.2" stroke="#2f3da0" stroke-width="2.4" />
<line x1="1342.5" y1="176.2" x2="1352.9" y2="176.2" stroke="#2f3da0" stroke-width="2.4" />
<line x1="1342.5" y1="192.2" x2="1352.9" y2="192.2" stroke="#2f3da0" stroke-width="2.4" />
<path d="M1347.7 188.8 L1352.3 180.9 L1343.1 180.9 Z" fill="#fff" stroke="#2f3da0" stroke-width="2" stroke-linejoin="miter"/>
<line x1="1407.5" y1="228.5" x2="1407.5" y2="244.5" stroke="#2f3da0" stroke-width="2.4" />
<line x1="1402.3" y1="228.5" x2="1412.7" y2="228.5" stroke="#2f3da0" stroke-width="2.4" />
<line x1="1402.3" y1="244.5" x2="1412.7" y2="244.5" stroke="#2f3da0" stroke-width="2.4" />
<path d="M1407.5 241.1 L1412.1 233.2 L1402.9 233.2 Z" fill="#fff" stroke="#2f3da0" stroke-width="2" stroke-linejoin="miter"/>
<line x1="1467.7" y1="324" x2="1467.7" y2="340" stroke="#2f3da0" stroke-width="2.4" />
<line x1="1462.5" y1="324" x2="1472.9" y2="324" stroke="#2f3da0" stroke-width="2.4" />
<line x1="1462.5" y1="340" x2="1472.9" y2="340" stroke="#2f3da0" stroke-width="2.4" />
<path d="M1467.7 336.6 L1472.3 328.7 L1463.2 328.7 Z" fill="#fff" stroke="#2f3da0" stroke-width="2" stroke-linejoin="miter"/>
<line x1="1503.9" y1="366.2" x2="1503.9" y2="384.2" stroke="#2f3da0" stroke-width="2.4" />
<line x1="1498.7" y1="366.2" x2="1509.1" y2="366.2" stroke="#2f3da0" stroke-width="2.4" />
<line x1="1498.7" y1="384.2" x2="1509.1" y2="384.2" stroke="#2f3da0" stroke-width="2.4" />
<path d="M1503.9 379.8 L1508.5 371.9 L1499.3 371.9 Z" fill="#fff" stroke="#2f3da0" stroke-width="2" stroke-linejoin="miter"/>
<line x1="1517" y1="387.3" x2="1517" y2="397.3" stroke="#2f3da0" stroke-width="2.4" />
<line x1="1511.8" y1="387.3" x2="1522.2" y2="387.3" stroke="#2f3da0" stroke-width="2.4" />
<line x1="1511.8" y1="397.3" x2="1522.2" y2="397.3" stroke="#2f3da0" stroke-width="2.4" />
<path d="M1517 396.9 L1521.6 389 L1512.4 389 Z" fill="#fff" stroke="#2f3da0" stroke-width="2" stroke-linejoin="miter"/>
<line x1="1546.2" y1="437" x2="1546.2" y2="449" stroke="#2f3da0" stroke-width="2.4" />
<line x1="1541" y1="437" x2="1551.4" y2="437" stroke="#2f3da0" stroke-width="2.4" />
<line x1="1541" y1="449" x2="1551.4" y2="449" stroke="#2f3da0" stroke-width="2.4" />
<path d="M1546.2 447.6 L1550.8 439.7 L1541.6 439.7 Z" fill="#fff" stroke="#2f3da0" stroke-width="2" stroke-linejoin="miter"/>
<line x1="1564.1" y1="485.4" x2="1576.1" y2="485.4" stroke="#2f3da0" stroke-width="2.4" />
<line x1="1564.1" y1="480.4" x2="1564.1" y2="490.4" stroke="#2f3da0" stroke-width="2.4" />
<line x1="1576.1" y1="480.4" x2="1576.1" y2="490.4" stroke="#2f3da0" stroke-width="2.4" />
<path d="M1570.1 490 L1574.6 482.1 L1565.5 482.1 Z" fill="#fff" stroke="#2f3da0" stroke-width="2" stroke-linejoin="miter"/>
<line x1="1113.9" y1="230.9" x2="1113.9" y2="244.9" stroke="#6a2283" stroke-width="2.4" />
<line x1="1108.7" y1="230.9" x2="1119.1" y2="230.9" stroke="#6a2283" stroke-width="2.4" />
<line x1="1108.7" y1="244.9" x2="1119.1" y2="244.9" stroke="#6a2283" stroke-width="2.4" />
<path d="M1113.9 232.6 L1119.2 237.9 L1113.9 243.3 L1108.5 237.9 Z" fill="#fff" stroke="#6a2283" stroke-width="2"/>
<line x1="1213.9" y1="243.6" x2="1213.9" y2="261.6" stroke="#6a2283" stroke-width="2.4" />
<line x1="1208.7" y1="243.6" x2="1219.1" y2="243.6" stroke="#6a2283" stroke-width="2.4" />
<line x1="1208.7" y1="261.6" x2="1219.1" y2="261.6" stroke="#6a2283" stroke-width="2.4" />
<path d="M1213.9 247.3 L1219.2 252.6 L1213.9 258 L1208.6 252.6 Z" fill="#fff" stroke="#6a2283" stroke-width="2"/>
<line x1="1298.5" y1="259.4" x2="1298.5" y2="273.4" stroke="#6a2283" stroke-width="2.4" />
<line x1="1293.3" y1="259.4" x2="1303.7" y2="259.4" stroke="#6a2283" stroke-width="2.4" />
<line x1="1293.3" y1="273.4" x2="1303.7" y2="273.4" stroke="#6a2283" stroke-width="2.4" />
<line x1="1291.5" y1="266.4" x2="1305.5" y2="266.4" stroke="#6a2283" stroke-width="2.4" />
<line x1="1291.5" y1="261.4" x2="1291.5" y2="271.4" stroke="#6a2283" stroke-width="2.4" />
<line x1="1305.5" y1="261.4" x2="1305.5" y2="271.4" stroke="#6a2283" stroke-width="2.4" />
<path d="M1298.5 261.1 L1303.8 266.4 L1298.5 271.8 L1293.2 266.4 Z" fill="#fff" stroke="#6a2283" stroke-width="2"/>
<line x1="1390.8" y1="304.6" x2="1390.8" y2="314.6" stroke="#6a2283" stroke-width="2.4" />
<line x1="1385.6" y1="304.6" x2="1396" y2="304.6" stroke="#6a2283" stroke-width="2.4" />
<line x1="1385.6" y1="314.6" x2="1396" y2="314.6" stroke="#6a2283" stroke-width="2.4" />
<path d="M1390.8 304.3 L1396.1 309.6 L1390.8 315 L1385.5 309.6 Z" fill="#fff" stroke="#6a2283" stroke-width="2"/>
<line x1="1467.7" y1="357.8" x2="1467.7" y2="367.8" stroke="#6a2283" stroke-width="2.4" />
<line x1="1462.5" y1="357.8" x2="1472.9" y2="357.8" stroke="#6a2283" stroke-width="2.4" />
<line x1="1462.5" y1="367.8" x2="1472.9" y2="367.8" stroke="#6a2283" stroke-width="2.4" />
<path d="M1467.7 357.5 L1473.1 362.8 L1467.7 368.2 L1462.4 362.8 Z" fill="#fff" stroke="#6a2283" stroke-width="2"/>
<line x1="1544.7" y1="450" x2="1544.7" y2="460" stroke="#6a2283" stroke-width="2.4" />
<line x1="1539.5" y1="450" x2="1549.9" y2="450" stroke="#6a2283" stroke-width="2.4" />
<line x1="1539.5" y1="460" x2="1549.9" y2="460" stroke="#6a2283" stroke-width="2.4" />
<path d="M1544.7 449.7 L1550 455 L1544.7 460.3 L1539.3 455 Z" fill="#fff" stroke="#6a2283" stroke-width="2"/>
<line x1="1565.9" y1="485.4" x2="1581.9" y2="485.4" stroke="#6a2283" stroke-width="2.4" />
<line x1="1565.9" y1="480.4" x2="1565.9" y2="490.4" stroke="#6a2283" stroke-width="2.4" />
<line x1="1581.9" y1="480.4" x2="1581.9" y2="490.4" stroke="#6a2283" stroke-width="2.4" />
<path d="M1573.9 480.1 L1579.2 485.4 L1573.9 490.7 L1568.6 485.4 Z" fill="#fff" stroke="#6a2283" stroke-width="2"/>
<line x1="1113.9" y1="386.4" x2="1113.9" y2="402.4" stroke="#000" stroke-width="2.4" />
<line x1="1108.7" y1="386.4" x2="1119.1" y2="386.4" stroke="#000" stroke-width="2.4" />
<line x1="1108.7" y1="402.4" x2="1119.1" y2="402.4" stroke="#000" stroke-width="2.4" />
<path d="M1108.5 394.4 L1117.7 389.1 L1117.7 399.7 Z" fill="#fff" stroke="#000" stroke-width="2" stroke-linejoin="miter"/>
<line x1="1213.9" y1="393.8" x2="1213.9" y2="411.8" stroke="#000" stroke-width="2.4" />
<line x1="1208.7" y1="393.8" x2="1219.1" y2="393.8" stroke="#000" stroke-width="2.4" />
<line x1="1208.7" y1="411.8" x2="1219.1" y2="411.8" stroke="#000" stroke-width="2.4" />
<path d="M1208.5 402.8 L1217.7 397.4 L1217.7 408.1 Z" fill="#fff" stroke="#000" stroke-width="2" stroke-linejoin="miter"/>
<line x1="1298.5" y1="404.4" x2="1298.5" y2="420.4" stroke="#000" stroke-width="2.4" />
<line x1="1293.3" y1="404.4" x2="1303.7" y2="404.4" stroke="#000" stroke-width="2.4" />
<line x1="1293.3" y1="420.4" x2="1303.7" y2="420.4" stroke="#000" stroke-width="2.4" />
<line x1="1292.5" y1="412.4" x2="1304.5" y2="412.4" stroke="#000" stroke-width="2.4" />
<line x1="1292.5" y1="407.4" x2="1292.5" y2="417.4" stroke="#000" stroke-width="2.4" />
<line x1="1304.5" y1="407.4" x2="1304.5" y2="417.4" stroke="#000" stroke-width="2.4" />
<path d="M1293.2 412.4 L1302.3 407.1 L1302.3 417.8 Z" fill="#fff" stroke="#000" stroke-width="2" stroke-linejoin="miter"/>
<line x1="1390.8" y1="412.9" x2="1390.8" y2="424.9" stroke="#000" stroke-width="2.4" />
<line x1="1385.6" y1="412.9" x2="1396" y2="412.9" stroke="#000" stroke-width="2.4" />
<line x1="1385.6" y1="424.9" x2="1396" y2="424.9" stroke="#000" stroke-width="2.4" />
<path d="M1385.5 418.9 L1394.7 413.6 L1394.7 424.2 Z" fill="#fff" stroke="#000" stroke-width="2" stroke-linejoin="miter"/>
<line x1="1467.7" y1="430.8" x2="1467.7" y2="446.8" stroke="#000" stroke-width="2.4" />
<line x1="1462.5" y1="430.8" x2="1472.9" y2="430.8" stroke="#000" stroke-width="2.4" />
<line x1="1462.5" y1="446.8" x2="1472.9" y2="446.8" stroke="#000" stroke-width="2.4" />
<path d="M1462.4 438.8 L1471.6 433.5 L1471.6 444.2 Z" fill="#fff" stroke="#000" stroke-width="2" stroke-linejoin="miter"/>
<line x1="1544.7" y1="467" x2="1544.7" y2="479" stroke="#000" stroke-width="2.4" />
<line x1="1539.5" y1="467" x2="1549.9" y2="467" stroke="#000" stroke-width="2.4" />
<line x1="1539.5" y1="479" x2="1549.9" y2="479" stroke="#000" stroke-width="2.4" />
<path d="M1539.3 473 L1548.5 467.7 L1548.5 478.4 Z" fill="#fff" stroke="#000" stroke-width="2" stroke-linejoin="miter"/>
<line x1="1559.8" y1="485.4" x2="1575.8" y2="485.4" stroke="#000" stroke-width="2.4" />
<line x1="1559.8" y1="480.4" x2="1559.8" y2="490.4" stroke="#000" stroke-width="2.4" />
<line x1="1575.8" y1="480.4" x2="1575.8" y2="490.4" stroke="#000" stroke-width="2.4" />
<path d="M1562.4 485.4 L1571.6 480.1 L1571.6 490.7 Z" fill="#fff" stroke="#000" stroke-width="2" stroke-linejoin="miter"/>
<rect x="1083.1" y="56" width="538.5" height="448" fill="none" stroke="#000" stroke-width="3.6"/>
<line x1="1160" y1="504" x2="1160" y2="494" stroke="#000" stroke-width="3" />
<line x1="1160" y1="56" x2="1160" y2="66" stroke="#000" stroke-width="3" />
<line x1="1237" y1="504" x2="1237" y2="494" stroke="#000" stroke-width="3" />
<line x1="1237" y1="56" x2="1237" y2="66" stroke="#000" stroke-width="3" />
<line x1="1313.9" y1="504" x2="1313.9" y2="494" stroke="#000" stroke-width="3" />
<line x1="1313.9" y1="56" x2="1313.9" y2="66" stroke="#000" stroke-width="3" />
<line x1="1390.8" y1="504" x2="1390.8" y2="494" stroke="#000" stroke-width="3" />
<line x1="1390.8" y1="56" x2="1390.8" y2="66" stroke="#000" stroke-width="3" />
<line x1="1467.7" y1="504" x2="1467.7" y2="494" stroke="#000" stroke-width="3" />
<line x1="1467.7" y1="56" x2="1467.7" y2="66" stroke="#000" stroke-width="3" />
<line x1="1544.7" y1="504" x2="1544.7" y2="494" stroke="#000" stroke-width="3" />
<line x1="1544.7" y1="56" x2="1544.7" y2="66" stroke="#000" stroke-width="3" />
<line x1="1121.6" y1="504" x2="1121.6" y2="498.5" stroke="#000" stroke-width="3" />
<line x1="1121.6" y1="56" x2="1121.6" y2="61.5" stroke="#000" stroke-width="3" />
<line x1="1198.5" y1="504" x2="1198.5" y2="498.5" stroke="#000" stroke-width="3" />
<line x1="1198.5" y1="56" x2="1198.5" y2="61.5" stroke="#000" stroke-width="3" />
<line x1="1275.4" y1="504" x2="1275.4" y2="498.5" stroke="#000" stroke-width="3" />
<line x1="1275.4" y1="56" x2="1275.4" y2="61.5" stroke="#000" stroke-width="3" />
<line x1="1352.3" y1="504" x2="1352.3" y2="498.5" stroke="#000" stroke-width="3" />
<line x1="1352.3" y1="56" x2="1352.3" y2="61.5" stroke="#000" stroke-width="3" />
<line x1="1429.3" y1="504" x2="1429.3" y2="498.5" stroke="#000" stroke-width="3" />
<line x1="1429.3" y1="56" x2="1429.3" y2="61.5" stroke="#000" stroke-width="3" />
<line x1="1506.2" y1="504" x2="1506.2" y2="498.5" stroke="#000" stroke-width="3" />
<line x1="1506.2" y1="56" x2="1506.2" y2="61.5" stroke="#000" stroke-width="3" />
<line x1="1583.1" y1="504" x2="1583.1" y2="498.5" stroke="#000" stroke-width="3" />
<line x1="1583.1" y1="56" x2="1583.1" y2="61.5" stroke="#000" stroke-width="3" />
<line x1="1083.1" y1="485.4" x2="1093.1" y2="485.4" stroke="#000" stroke-width="3" />
<line x1="1621.6" y1="485.4" x2="1611.6" y2="485.4" stroke="#000" stroke-width="3" />
<line x1="1083.1" y1="390.4" x2="1093.1" y2="390.4" stroke="#000" stroke-width="3" />
<line x1="1621.6" y1="390.4" x2="1611.6" y2="390.4" stroke="#000" stroke-width="3" />
<line x1="1083.1" y1="295.4" x2="1093.1" y2="295.4" stroke="#000" stroke-width="3" />
<line x1="1621.6" y1="295.4" x2="1611.6" y2="295.4" stroke="#000" stroke-width="3" />
<line x1="1083.1" y1="200.4" x2="1093.1" y2="200.4" stroke="#000" stroke-width="3" />
<line x1="1621.6" y1="200.4" x2="1611.6" y2="200.4" stroke="#000" stroke-width="3" />
<line x1="1083.1" y1="105.4" x2="1093.1" y2="105.4" stroke="#000" stroke-width="3" />
<line x1="1621.6" y1="105.4" x2="1611.6" y2="105.4" stroke="#000" stroke-width="3" />
<line x1="1083.1" y1="461.6" x2="1088.6" y2="461.6" stroke="#000" stroke-width="3" />
<line x1="1621.6" y1="461.6" x2="1616.1" y2="461.6" stroke="#000" stroke-width="3" />
<line x1="1083.1" y1="437.9" x2="1088.6" y2="437.9" stroke="#000" stroke-width="3" />
<line x1="1621.6" y1="437.9" x2="1616.1" y2="437.9" stroke="#000" stroke-width="3" />
<line x1="1083.1" y1="414.1" x2="1088.6" y2="414.1" stroke="#000" stroke-width="3" />
<line x1="1621.6" y1="414.1" x2="1616.1" y2="414.1" stroke="#000" stroke-width="3" />
<line x1="1083.1" y1="366.6" x2="1088.6" y2="366.6" stroke="#000" stroke-width="3" />
<line x1="1621.6" y1="366.6" x2="1616.1" y2="366.6" stroke="#000" stroke-width="3" />
<line x1="1083.1" y1="342.9" x2="1088.6" y2="342.9" stroke="#000" stroke-width="3" />
<line x1="1621.6" y1="342.9" x2="1616.1" y2="342.9" stroke="#000" stroke-width="3" />
<line x1="1083.1" y1="319.1" x2="1088.6" y2="319.1" stroke="#000" stroke-width="3" />
<line x1="1621.6" y1="319.1" x2="1616.1" y2="319.1" stroke="#000" stroke-width="3" />
<line x1="1083.1" y1="271.6" x2="1088.6" y2="271.6" stroke="#000" stroke-width="3" />
<line x1="1621.6" y1="271.6" x2="1616.1" y2="271.6" stroke="#000" stroke-width="3" />
<line x1="1083.1" y1="247.9" x2="1088.6" y2="247.9" stroke="#000" stroke-width="3" />
<line x1="1621.6" y1="247.9" x2="1616.1" y2="247.9" stroke="#000" stroke-width="3" />
<line x1="1083.1" y1="224.1" x2="1088.6" y2="224.1" stroke="#000" stroke-width="3" />
<line x1="1621.6" y1="224.1" x2="1616.1" y2="224.1" stroke="#000" stroke-width="3" />
<line x1="1083.1" y1="176.6" x2="1088.6" y2="176.6" stroke="#000" stroke-width="3" />
<line x1="1621.6" y1="176.6" x2="1616.1" y2="176.6" stroke="#000" stroke-width="3" />
<line x1="1083.1" y1="152.9" x2="1088.6" y2="152.9" stroke="#000" stroke-width="3" />
<line x1="1621.6" y1="152.9" x2="1616.1" y2="152.9" stroke="#000" stroke-width="3" />
<line x1="1083.1" y1="129.1" x2="1088.6" y2="129.1" stroke="#000" stroke-width="3" />
<line x1="1621.6" y1="129.1" x2="1616.1" y2="129.1" stroke="#000" stroke-width="3" />
<line x1="1083.1" y1="81.6" x2="1088.6" y2="81.6" stroke="#000" stroke-width="3" />
<line x1="1621.6" y1="81.6" x2="1616.1" y2="81.6" stroke="#000" stroke-width="3" />
<line x1="1083.1" y1="57.9" x2="1088.6" y2="57.9" stroke="#000" stroke-width="3" />
<line x1="1621.6" y1="57.9" x2="1616.1" y2="57.9" stroke="#000" stroke-width="3" />
<text x="1073.5" y="493.2" font-size="29" text-anchor="end" fill="#000" textLength="15.6" lengthAdjust="spacingAndGlyphs" >0</text>
<text x="1073.5" y="398.2" font-size="29" text-anchor="end" fill="#000" textLength="46.9" lengthAdjust="spacingAndGlyphs" >100</text>
<text x="1073.5" y="303.2" font-size="29" text-anchor="end" fill="#000" textLength="46.9" lengthAdjust="spacingAndGlyphs" >200</text>
<text x="1073.5" y="208.2" font-size="29" text-anchor="end" fill="#000" textLength="46.9" lengthAdjust="spacingAndGlyphs" >300</text>
<text x="1073.5" y="113.2" font-size="29" text-anchor="end" fill="#000" textLength="46.9" lengthAdjust="spacingAndGlyphs" >400</text>
<text x="1083.1" y="537.3" font-size="29" text-anchor="middle" fill="#000" >0</text>
<text x="1160" y="537.3" font-size="29" text-anchor="middle" fill="#000" >1</text>
<text x="1237" y="537.3" font-size="29" text-anchor="middle" fill="#000" >2</text>
<text x="1313.9" y="537.3" font-size="29" text-anchor="middle" fill="#000" >3</text>
<text x="1390.8" y="537.3" font-size="29" text-anchor="middle" fill="#000" >4</text>
<text x="1467.7" y="537.3" font-size="29" text-anchor="middle" fill="#000" >5</text>
<text x="1544.7" y="537.3" font-size="29" text-anchor="middle" fill="#000" >6</text>
<text x="1621.6" y="537.3" font-size="29" text-anchor="middle" fill="#000" >7</text>
<text x="1351.7" y="583.2" font-size="32.5" text-anchor="middle" fill="#000" textLength="72.5" lengthAdjust="spacingAndGlyphs" >T (K)</text>
<text x="1000" y="305" font-size="35" text-anchor="middle" fill="#000" textLength="123" lengthAdjust="spacingAndGlyphs" transform="rotate(-90 1000 305)" ><tspan font-family="Liberation Serif" font-weight="normal" font-size="1.0em">Δ</tspan>V<tspan font-size="0.45em">0</tspan> (<tspan font-family="Liberation Serif" font-weight="normal" font-size="1.0em">μ</tspan>V)</text>
<text x="1386" y="119" font-size="29.5" text-anchor="start" fill="#000" textLength="35" lengthAdjust="spacingAndGlyphs" >S1</text>
<text x="1513.5" y="120.5" font-size="32.5" text-anchor="start" fill="#000" textLength="77.5" lengthAdjust="spacingAndGlyphs" >I (<tspan font-family="Liberation Serif" font-weight="normal" font-size="1.0em">μ</tspan>A)</text>
<path d="M1505.5 156 H1517.5 M1533.5 156 H1545.5" stroke="#e02128" stroke-width="4" stroke-linecap="round"/>
<rect x="1521.2" y="151.8" width="8.5" height="8.5" fill="#fff" stroke="#e02128" stroke-width="2"/>
<text x="1553.5" y="162.8" font-size="25" text-anchor="start" fill="#000" >0.1</text>
<path d="M1505.5 189.6 H1517.5 M1533.5 189.6 H1545.5" stroke="#f0841f" stroke-width="4" stroke-linecap="round"/>
<circle cx="1525.5" cy="189.6" r="4.2" fill="#fff" stroke="#f0841f" stroke-width="2"/>
<text x="1553.5" y="196.4" font-size="25" text-anchor="start" fill="#000" >0.5</text>
<path d="M1505.5 222.6 H1517.5 M1533.5 222.6 H1545.5" stroke="#177d78" stroke-width="4" stroke-linecap="round"/>
<path d="M1525.5 216.7 L1531.4 226.8 L1519.6 226.8 Z" fill="#fff" stroke="#177d78" stroke-width="2" stroke-linejoin="miter"/>
<text x="1553.5" y="229.4" font-size="25" text-anchor="start" fill="#000" >1.0</text>
<path d="M1505.5 256.2 H1517.5 M1533.5 256.2 H1545.5" stroke="#2f3da0" stroke-width="4" stroke-linecap="round"/>
<path d="M1525.5 262.1 L1531.4 252 L1519.6 252 Z" fill="#fff" stroke="#2f3da0" stroke-width="2" stroke-linejoin="miter"/>
<text x="1553.5" y="263" font-size="25" text-anchor="start" fill="#000" >2.0</text>
<path d="M1505.5 289.4 H1517.5 M1533.5 289.4 H1545.5" stroke="#6a2283" stroke-width="4" stroke-linecap="round"/>
<path d="M1525.5 282.6 L1532.3 289.4 L1525.5 296.2 L1518.7 289.4 Z" fill="#fff" stroke="#6a2283" stroke-width="2"/>
<text x="1553.5" y="296.2" font-size="25" text-anchor="start" fill="#000" >5.0</text>
<path d="M1505.5 322.8 H1517.5 M1533.5 322.8 H1545.5" stroke="#000" stroke-width="4" stroke-linecap="round"/>
<path d="M1519.6 322.8 L1529.7 316.9 L1529.7 328.7 Z" fill="#fff" stroke="#000" stroke-width="2" stroke-linejoin="miter"/>
<text x="1553.5" y="329.6" font-size="25" text-anchor="start" fill="#000" >10</text>
<text x="955.8" y="98.3" font-size="55.5" text-anchor="middle" fill="#000" >(b)</text>
</g>
<g id="pc">
<line x1="1849.8" y1="79.6" x2="1849.8" y2="107.6" stroke="#f0841f" stroke-width="2.4" />
<line x1="1844.6" y1="79.6" x2="1855" y2="79.6" stroke="#f0841f" stroke-width="2.4" />
<line x1="1844.6" y1="107.6" x2="1855" y2="107.6" stroke="#f0841f" stroke-width="2.4" />
<circle cx="1849.8" cy="93.6" r="4.4" fill="#fff" stroke="#f0841f" stroke-width="2"/>
<line x1="1952.3" y1="102.3" x2="1952.3" y2="138.3" stroke="#f0841f" stroke-width="2.4" />
<line x1="1947.1" y1="102.3" x2="1957.5" y2="102.3" stroke="#f0841f" stroke-width="2.4" />
<line x1="1947.1" y1="138.3" x2="1957.5" y2="138.3" stroke="#f0841f" stroke-width="2.4" />
<circle cx="1952.3" cy="120.3" r="4.4" fill="#fff" stroke="#f0841f" stroke-width="2"/>
<line x1="2054.9" y1="155.6" x2="2054.9" y2="179.6" stroke="#f0841f" stroke-width="2.4" />
<line x1="2049.7" y1="155.6" x2="2060.1" y2="155.6" stroke="#f0841f" stroke-width="2.4" />
<line x1="2049.7" y1="179.6" x2="2060.1" y2="179.6" stroke="#f0841f" stroke-width="2.4" />
<line x1="2047.9" y1="167.6" x2="2061.9" y2="167.6" stroke="#f0841f" stroke-width="2.2" />
<line x1="2047.9" y1="163.1" x2="2047.9" y2="172.1" stroke="#f0841f" stroke-width="2.2" />
<line x1="2061.9" y1="163.1" x2="2061.9" y2="172.1" stroke="#f0841f" stroke-width="2.2" />
<circle cx="2054.9" cy="167.6" r="4.4" fill="#fff" stroke="#f0841f" stroke-width="2"/>
<line x1="2142.3" y1="249.7" x2="2142.3" y2="280.7" stroke="#f0841f" stroke-width="2.4" />
<line x1="2137.1" y1="249.7" x2="2147.5" y2="249.7" stroke="#f0841f" stroke-width="2.4" />
<line x1="2137.1" y1="280.7" x2="2147.5" y2="280.7" stroke="#f0841f" stroke-width="2.4" />
<circle cx="2142.3" cy="265.2" r="4.4" fill="#fff" stroke="#f0841f" stroke-width="2"/>
<line x1="2213.1" y1="331.6" x2="2213.1" y2="359.6" stroke="#f0841f" stroke-width="2.4" />
<line x1="2207.9" y1="331.6" x2="2218.3" y2="331.6" stroke="#f0841f" stroke-width="2.4" />
<line x1="2207.9" y1="359.6" x2="2218.3" y2="359.6" stroke="#f0841f" stroke-width="2.4" />
<circle cx="2213.1" cy="345.6" r="4.4" fill="#fff" stroke="#f0841f" stroke-width="2"/>
<line x1="2294.6" y1="436.1" x2="2294.6" y2="458.1" stroke="#f0841f" stroke-width="2.4" />
<line x1="2289.4" y1="436.1" x2="2299.8" y2="436.1" stroke="#f0841f" stroke-width="2.4" />
<line x1="2289.4" y1="458.1" x2="2299.8" y2="458.1" stroke="#f0841f" stroke-width="2.4" />
<circle cx="2294.6" cy="447.1" r="4.4" fill="#fff" stroke="#f0841f" stroke-width="2"/>
<line x1="1849.8" y1="78.6" x2="1849.8" y2="108.6" stroke="#e02128" stroke-width="2.4" />
<line x1="1844.6" y1="78.6" x2="1855" y2="78.6" stroke="#e02128" stroke-width="2.4" />
<line x1="1844.6" y1="108.6" x2="1855" y2="108.6" stroke="#e02128" stroke-width="2.4" />
<rect x="1845.4" y="89.2" width="8.8" height="8.8" fill="#fff" stroke="#e02128" stroke-width="2"/>
<line x1="1967.5" y1="82.9" x2="1967.5" y2="134.9" stroke="#e02128" stroke-width="2.4" />
<line x1="1962.3" y1="82.9" x2="1972.7" y2="82.9" stroke="#e02128" stroke-width="2.4" />
<line x1="1962.3" y1="134.9" x2="1972.7" y2="134.9" stroke="#e02128" stroke-width="2.4" />
<rect x="1963.1" y="104.5" width="8.8" height="8.8" fill="#fff" stroke="#e02128" stroke-width="2"/>
<line x1="2008" y1="119.2" x2="2008" y2="167.2" stroke="#e02128" stroke-width="2.4" />
<line x1="2002.8" y1="119.2" x2="2013.2" y2="119.2" stroke="#e02128" stroke-width="2.4" />
<line x1="2002.8" y1="167.2" x2="2013.2" y2="167.2" stroke="#e02128" stroke-width="2.4" />
<line x1="2000" y1="143.2" x2="2016" y2="143.2" stroke="#e02128" stroke-width="2.2" />
<line x1="2000" y1="138.7" x2="2000" y2="147.7" stroke="#e02128" stroke-width="2.2" />
<line x1="2016" y1="138.7" x2="2016" y2="147.7" stroke="#e02128" stroke-width="2.2" />
<rect x="2003.6" y="138.8" width="8.8" height="8.8" fill="#fff" stroke="#e02128" stroke-width="2"/>
<line x1="2160.8" y1="200.9" x2="2160.8" y2="250.9" stroke="#e02128" stroke-width="2.4" />
<line x1="2155.6" y1="200.9" x2="2166" y2="200.9" stroke="#e02128" stroke-width="2.4" />
<line x1="2155.6" y1="250.9" x2="2166" y2="250.9" stroke="#e02128" stroke-width="2.4" />
<rect x="2156.4" y="221.5" width="8.8" height="8.8" fill="#fff" stroke="#e02128" stroke-width="2"/>
<line x1="2226.3" y1="301.7" x2="2226.3" y2="347.7" stroke="#e02128" stroke-width="2.4" />
<line x1="2221.1" y1="301.7" x2="2231.5" y2="301.7" stroke="#e02128" stroke-width="2.4" />
<line x1="2221.1" y1="347.7" x2="2231.5" y2="347.7" stroke="#e02128" stroke-width="2.4" />
<rect x="2221.9" y="320.3" width="8.8" height="8.8" fill="#fff" stroke="#e02128" stroke-width="2"/>
<line x1="2307.8" y1="452.9" x2="2307.8" y2="482.9" stroke="#e02128" stroke-width="2.4" />
<line x1="2302.6" y1="452.9" x2="2313" y2="452.9" stroke="#e02128" stroke-width="2.4" />
<line x1="2302.6" y1="482.9" x2="2313" y2="482.9" stroke="#e02128" stroke-width="2.4" />
<line x1="2301.8" y1="474.9" x2="2313.8" y2="474.9" stroke="#e02128" stroke-width="2.2" />
<line x1="2301.8" y1="470.4" x2="2301.8" y2="479.4" stroke="#e02128" stroke-width="2.2" />
<line x1="2313.8" y1="470.4" x2="2313.8" y2="479.4" stroke="#e02128" stroke-width="2.2" />
<rect x="2303.4" y="470.5" width="8.8" height="8.8" fill="#fff" stroke="#e02128" stroke-width="2"/>
<line x1="1849.8" y1="78.6" x2="1849.8" y2="108.6" stroke="#000" stroke-width="2.4" />
<line x1="1844.6" y1="78.6" x2="1855" y2="78.6" stroke="#000" stroke-width="2.4" />
<line x1="1844.6" y1="108.6" x2="1855" y2="108.6" stroke="#000" stroke-width="2.4" />
<line x1="1844.8" y1="93.6" x2="1854.8" y2="93.6" stroke="#000" stroke-width="2.2" />
<line x1="1844.8" y1="89.1" x2="1844.8" y2="98.1" stroke="#000" stroke-width="2.2" />
<line x1="1854.8" y1="89.1" x2="1854.8" y2="98.1" stroke="#000" stroke-width="2.2" />
<path d="M1844.5 93.6 L1853.6 88.3 L1853.6 98.9 Z" fill="#fff" stroke="#000" stroke-width="2" stroke-linejoin="miter"/>
<line x1="1951.3" y1="100" x2="1951.3" y2="136" stroke="#000" stroke-width="2.4" />
<line x1="1946.1" y1="100" x2="1956.5" y2="100" stroke="#000" stroke-width="2.4" />
<line x1="1946.1" y1="136" x2="1956.5" y2="136" stroke="#000" stroke-width="2.4" />
<path d="M1946.1 118 L1955.1 112.7 L1955.1 123.3 Z" fill="#fff" stroke="#000" stroke-width="2" stroke-linejoin="miter"/>
<line x1="2035.8" y1="148.4" x2="2035.8" y2="184.4" stroke="#000" stroke-width="2.4" />
<line x1="2030.6" y1="148.4" x2="2041" y2="148.4" stroke="#000" stroke-width="2.4" />
<line x1="2030.6" y1="184.4" x2="2041" y2="184.4" stroke="#000" stroke-width="2.4" />
<line x1="2029.8" y1="166.4" x2="2041.8" y2="166.4" stroke="#000" stroke-width="2.2" />
<line x1="2029.8" y1="161.9" x2="2029.8" y2="170.9" stroke="#000" stroke-width="2.2" />
<line x1="2041.8" y1="161.9" x2="2041.8" y2="170.9" stroke="#000" stroke-width="2.2" />
<path d="M2030.5 166.4 L2039.6 161.2 L2039.6 171.7 Z" fill="#fff" stroke="#000" stroke-width="2" stroke-linejoin="miter"/>
<line x1="2130.1" y1="172.9" x2="2130.1" y2="214.9" stroke="#000" stroke-width="2.4" />
<line x1="2124.9" y1="172.9" x2="2135.3" y2="172.9" stroke="#000" stroke-width="2.4" />
<line x1="2124.9" y1="214.9" x2="2135.3" y2="214.9" stroke="#000" stroke-width="2.4" />
<path d="M2124.8 193.9 L2133.9 188.6 L2133.9 199.2 Z" fill="#fff" stroke="#000" stroke-width="2" stroke-linejoin="miter"/>
<line x1="2207.7" y1="251.8" x2="2207.7" y2="282.8" stroke="#000" stroke-width="2.4" />
<line x1="2202.5" y1="251.8" x2="2212.9" y2="251.8" stroke="#000" stroke-width="2.4" />
<line x1="2202.5" y1="282.8" x2="2212.9" y2="282.8" stroke="#000" stroke-width="2.4" />
<path d="M2202.4 272.8 L2211.5 267.5 L2211.5 278.1 Z" fill="#000" stroke="#000" stroke-width="2" stroke-linejoin="miter"/>
<line x1="2284.8" y1="403.7" x2="2284.8" y2="447.7" stroke="#000" stroke-width="2.4" />
<line x1="2279.6" y1="403.7" x2="2290" y2="403.7" stroke="#000" stroke-width="2.4" />
<line x1="2279.6" y1="447.7" x2="2290" y2="447.7" stroke="#000" stroke-width="2.4" />
<line x1="2278.8" y1="425.7" x2="2290.8" y2="425.7" stroke="#000" stroke-width="2.2" />
<line x1="2278.8" y1="421.2" x2="2278.8" y2="430.2" stroke="#000" stroke-width="2.2" />
<line x1="2290.8" y1="421.2" x2="2290.8" y2="430.2" stroke="#000" stroke-width="2.2" />
<path d="M2279.6 425.7 L2288.6 420.4 L2288.6 431 Z" fill="#fff" stroke="#000" stroke-width="2" stroke-linejoin="miter"/>
<line x1="2307.8" y1="464.9" x2="2307.8" y2="484.9" stroke="#000" stroke-width="2.4" />
<line x1="2302.6" y1="464.9" x2="2313" y2="464.9" stroke="#000" stroke-width="2.4" />
<line x1="2302.6" y1="484.9" x2="2313" y2="484.9" stroke="#000" stroke-width="2.4" />
<line x1="2299.8" y1="474.9" x2="2315.8" y2="474.9" stroke="#000" stroke-width="2.2" />
<line x1="2299.8" y1="470.4" x2="2299.8" y2="479.4" stroke="#000" stroke-width="2.2" />
<line x1="2315.8" y1="470.4" x2="2315.8" y2="479.4" stroke="#000" stroke-width="2.2" />
<path d="M2302.5 474.9 L2311.6 469.6 L2311.6 480.2 Z" fill="#fff" stroke="#000" stroke-width="2" stroke-linejoin="miter"/>
<line x1="1849.8" y1="84.6" x2="1849.8" y2="102.6" stroke="#177d78" stroke-width="2.4" />
<line x1="1844.6" y1="84.6" x2="1855" y2="84.6" stroke="#177d78" stroke-width="2.4" />
<line x1="1844.6" y1="102.6" x2="1855" y2="102.6" stroke="#177d78" stroke-width="2.4" />
<path d="M1849.8 88.3 L1855 97.4 L1844.5 97.4 Z" fill="#fff" stroke="#177d78" stroke-width="2" stroke-linejoin="miter"/>
<line x1="1960.6" y1="102.9" x2="1960.6" y2="120.9" stroke="#177d78" stroke-width="2.4" />
<line x1="1955.4" y1="102.9" x2="1965.8" y2="102.9" stroke="#177d78" stroke-width="2.4" />
<line x1="1955.4" y1="120.9" x2="1965.8" y2="120.9" stroke="#177d78" stroke-width="2.4" />
<path d="M1960.6 106.6 L1965.9 115.7 L1955.3 115.7 Z" fill="#fff" stroke="#177d78" stroke-width="2" stroke-linejoin="miter"/>
<line x1="2051.9" y1="158" x2="2051.9" y2="174" stroke="#177d78" stroke-width="2.4" />
<line x1="2046.7" y1="158" x2="2057.1" y2="158" stroke="#177d78" stroke-width="2.4" />
<line x1="2046.7" y1="174" x2="2057.1" y2="174" stroke="#177d78" stroke-width="2.4" />
<line x1="2044.9" y1="166" x2="2058.9" y2="166" stroke="#177d78" stroke-width="2.2" />
<line x1="2044.9" y1="161.5" x2="2044.9" y2="170.5" stroke="#177d78" stroke-width="2.2" />
<line x1="2058.9" y1="161.5" x2="2058.9" y2="170.5" stroke="#177d78" stroke-width="2.2" />
<path d="M2051.9 160.8 L2057.2 169.8 L2046.7 169.8 Z" fill="#fff" stroke="#177d78" stroke-width="2" stroke-linejoin="miter"/>
<line x1="2130.1" y1="235.1" x2="2130.1" y2="257.1" stroke="#177d78" stroke-width="2.4" />
<line x1="2124.9" y1="235.1" x2="2135.3" y2="235.1" stroke="#177d78" stroke-width="2.4" />
<line x1="2124.9" y1="257.1" x2="2135.3" y2="257.1" stroke="#177d78" stroke-width="2.4" />
<path d="M2130.1 240.8 L2135.3 249.9 L2124.8 249.9 Z" fill="#fff" stroke="#177d78" stroke-width="2" stroke-linejoin="miter"/>
<line x1="2205.3" y1="326.2" x2="2205.3" y2="342.2" stroke="#177d78" stroke-width="2.4" />
<line x1="2200.1" y1="326.2" x2="2210.5" y2="326.2" stroke="#177d78" stroke-width="2.4" />
<line x1="2200.1" y1="342.2" x2="2210.5" y2="342.2" stroke="#177d78" stroke-width="2.4" />
<line x1="2200.3" y1="334.2" x2="2210.3" y2="334.2" stroke="#177d78" stroke-width="2.2" />
<line x1="2200.3" y1="329.7" x2="2200.3" y2="338.7" stroke="#177d78" stroke-width="2.2" />
<line x1="2210.3" y1="329.7" x2="2210.3" y2="338.7" stroke="#177d78" stroke-width="2.2" />
<path d="M2205.3 328.9 L2210.5 338 L2200 338 Z" fill="#fff" stroke="#177d78" stroke-width="2" stroke-linejoin="miter"/>
<line x1="2280.9" y1="433.8" x2="2280.9" y2="445.8" stroke="#177d78" stroke-width="2.4" />
<line x1="2275.7" y1="433.8" x2="2286.1" y2="433.8" stroke="#177d78" stroke-width="2.4" />
<line x1="2275.7" y1="445.8" x2="2286.1" y2="445.8" stroke="#177d78" stroke-width="2.4" />
<path d="M2280.9 434.6 L2286.2 443.6 L2275.7 443.6 Z" fill="#fff" stroke="#177d78" stroke-width="2" stroke-linejoin="miter"/>
<line x1="1849.8" y1="85.6" x2="1849.8" y2="101.6" stroke="#6a2283" stroke-width="2.4" />
<line x1="1844.6" y1="85.6" x2="1855" y2="85.6" stroke="#6a2283" stroke-width="2.4" />
<line x1="1844.6" y1="101.6" x2="1855" y2="101.6" stroke="#6a2283" stroke-width="2.4" />
<line x1="1845.8" y1="93.6" x2="1853.8" y2="93.6" stroke="#6a2283" stroke-width="2.2" />
<line x1="1845.8" y1="89.1" x2="1845.8" y2="98.1" stroke="#6a2283" stroke-width="2.2" />
<line x1="1853.8" y1="89.1" x2="1853.8" y2="98.1" stroke="#6a2283" stroke-width="2.2" />
<path d="M1849.8 87.5 L1855.9 93.6 L1849.8 99.7 L1843.7 93.6 Z" fill="#fff" stroke="#6a2283" stroke-width="2"/>
<line x1="1948.9" y1="108.5" x2="1948.9" y2="124.5" stroke="#6a2283" stroke-width="2.4" />
<line x1="1943.7" y1="108.5" x2="1954.1" y2="108.5" stroke="#6a2283" stroke-width="2.4" />
<line x1="1943.7" y1="124.5" x2="1954.1" y2="124.5" stroke="#6a2283" stroke-width="2.4" />
<path d="M1948.9 110.4 L1955 116.5 L1948.9 122.6 L1942.8 116.5 Z" fill="#fff" stroke="#6a2283" stroke-width="2"/>
<line x1="2032.9" y1="128.3" x2="2032.9" y2="144.3" stroke="#6a2283" stroke-width="2.4" />
<line x1="2027.7" y1="128.3" x2="2038.1" y2="128.3" stroke="#6a2283" stroke-width="2.4" />
<line x1="2027.7" y1="144.3" x2="2038.1" y2="144.3" stroke="#6a2283" stroke-width="2.4" />
<line x1="2024.9" y1="136.3" x2="2040.9" y2="136.3" stroke="#6a2283" stroke-width="2.2" />
<line x1="2024.9" y1="131.8" x2="2024.9" y2="140.8" stroke="#6a2283" stroke-width="2.2" />
<line x1="2040.9" y1="131.8" x2="2040.9" y2="140.8" stroke="#6a2283" stroke-width="2.2" />
<path d="M2032.9 130.2 L2039 136.3 L2032.9 142.4 L2026.8 136.3 Z" fill="#fff" stroke="#6a2283" stroke-width="2"/>
<line x1="2124.7" y1="196.2" x2="2124.7" y2="212.2" stroke="#6a2283" stroke-width="2.4" />
<line x1="2119.5" y1="196.2" x2="2129.9" y2="196.2" stroke="#6a2283" stroke-width="2.4" />
<line x1="2119.5" y1="212.2" x2="2129.9" y2="212.2" stroke="#6a2283" stroke-width="2.4" />
<path d="M2124.7 198.1 L2130.8 204.2 L2124.7 210.3 L2118.6 204.2 Z" fill="#fff" stroke="#6a2283" stroke-width="2"/>
<line x1="2199.9" y1="280.4" x2="2199.9" y2="290.4" stroke="#6a2283" stroke-width="2.4" />
<line x1="2194.7" y1="280.4" x2="2205.1" y2="280.4" stroke="#6a2283" stroke-width="2.4" />
<line x1="2194.7" y1="290.4" x2="2205.1" y2="290.4" stroke="#6a2283" stroke-width="2.4" />
<line x1="2195.9" y1="285.4" x2="2203.9" y2="285.4" stroke="#6a2283" stroke-width="2.2" />
<line x1="2195.9" y1="280.9" x2="2195.9" y2="289.9" stroke="#6a2283" stroke-width="2.2" />
<line x1="2203.9" y1="280.9" x2="2203.9" y2="289.9" stroke="#6a2283" stroke-width="2.2" />
<path d="M2199.9 279.3 L2206 285.4 L2199.9 291.5 L2193.8 285.4 Z" fill="#6a2283" stroke="#6a2283" stroke-width="2"/>
<line x1="2274.6" y1="423" x2="2274.6" y2="433" stroke="#6a2283" stroke-width="2.4" />
<line x1="2269.4" y1="423" x2="2279.8" y2="423" stroke="#6a2283" stroke-width="2.4" />
<line x1="2269.4" y1="433" x2="2279.8" y2="433" stroke="#6a2283" stroke-width="2.4" />
<line x1="2270.6" y1="428" x2="2278.6" y2="428" stroke="#6a2283" stroke-width="2.2" />
<line x1="2270.6" y1="423.5" x2="2270.6" y2="432.5" stroke="#6a2283" stroke-width="2.2" />
<line x1="2278.6" y1="423.5" x2="2278.6" y2="432.5" stroke="#6a2283" stroke-width="2.2" />
<path d="M2274.6 421.9 L2280.7 428 L2274.6 434.1 L2268.5 428 Z" fill="#6a2283" stroke="#6a2283" stroke-width="2"/>
<line x1="2301.8" y1="474.9" x2="2313.8" y2="474.9" stroke="#6a2283" stroke-width="2.2" />
<line x1="2301.8" y1="470.4" x2="2301.8" y2="479.4" stroke="#6a2283" stroke-width="2.2" />
<line x1="2313.8" y1="470.4" x2="2313.8" y2="479.4" stroke="#6a2283" stroke-width="2.2" />
<path d="M2307.8 468.8 L2313.9 474.9 L2307.8 481 L2301.7 474.9 Z" fill="#fff" stroke="#6a2283" stroke-width="2"/>
<line x1="1849.8" y1="84.6" x2="1849.8" y2="102.6" stroke="#2f3da0" stroke-width="2.4" />
<line x1="1844.6" y1="84.6" x2="1855" y2="84.6" stroke="#2f3da0" stroke-width="2.4" />
<line x1="1844.6" y1="102.6" x2="1855" y2="102.6" stroke="#2f3da0" stroke-width="2.4" />
<line x1="1845.8" y1="93.6" x2="1853.8" y2="93.6" stroke="#2f3da0" stroke-width="2.2" />
<line x1="1845.8" y1="89.1" x2="1845.8" y2="98.1" stroke="#2f3da0" stroke-width="2.2" />
<line x1="1853.8" y1="89.1" x2="1853.8" y2="98.1" stroke="#2f3da0" stroke-width="2.2" />
<path d="M1849.8 98.9 L1855 89.8 L1844.5 89.8 Z" fill="#fff" stroke="#2f3da0" stroke-width="2" stroke-linejoin="miter"/>
<line x1="1959.6" y1="102" x2="1959.6" y2="118" stroke="#2f3da0" stroke-width="2.4" />
<line x1="1954.4" y1="102" x2="1964.8" y2="102" stroke="#2f3da0" stroke-width="2.4" />
<line x1="1954.4" y1="118" x2="1964.8" y2="118" stroke="#2f3da0" stroke-width="2.4" />
<line x1="1954.6" y1="110" x2="1964.6" y2="110" stroke="#2f3da0" stroke-width="2.2" />
<line x1="1954.6" y1="105.5" x2="1954.6" y2="114.5" stroke="#2f3da0" stroke-width="2.2" />
<line x1="1964.6" y1="105.5" x2="1964.6" y2="114.5" stroke="#2f3da0" stroke-width="2.2" />
<path d="M1959.6 115.3 L1964.9 106.2 L1954.4 106.2 Z" fill="#fff" stroke="#2f3da0" stroke-width="2" stroke-linejoin="miter"/>
<line x1="2036.8" y1="126" x2="2036.8" y2="142" stroke="#2f3da0" stroke-width="2.4" />
<line x1="2031.6" y1="126" x2="2042" y2="126" stroke="#2f3da0" stroke-width="2.4" />
<line x1="2031.6" y1="142" x2="2042" y2="142" stroke="#2f3da0" stroke-width="2.4" />
<line x1="2027.8" y1="134" x2="2045.8" y2="134" stroke="#2f3da0" stroke-width="2.2" />
<line x1="2027.8" y1="129.5" x2="2027.8" y2="138.5" stroke="#2f3da0" stroke-width="2.2" />
<line x1="2045.8" y1="129.5" x2="2045.8" y2="138.5" stroke="#2f3da0" stroke-width="2.2" />
<path d="M2036.8 139.3 L2042.1 130.2 L2031.5 130.2 Z" fill="#fff" stroke="#2f3da0" stroke-width="2" stroke-linejoin="miter"/>
<line x1="2083.7" y1="167.7" x2="2083.7" y2="179.7" stroke="#2f3da0" stroke-width="2.4" />
<line x1="2078.5" y1="167.7" x2="2088.9" y2="167.7" stroke="#2f3da0" stroke-width="2.4" />
<line x1="2078.5" y1="179.7" x2="2088.9" y2="179.7" stroke="#2f3da0" stroke-width="2.4" />
<line x1="2078.7" y1="173.7" x2="2088.7" y2="173.7" stroke="#2f3da0" stroke-width="2.2" />
<line x1="2078.7" y1="169.2" x2="2078.7" y2="178.2" stroke="#2f3da0" stroke-width="2.2" />
<line x1="2088.7" y1="169.2" x2="2088.7" y2="178.2" stroke="#2f3da0" stroke-width="2.2" />
<path d="M2083.7 178.9 L2088.9 169.9 L2078.4 169.9 Z" fill="#fff" stroke="#2f3da0" stroke-width="2" stroke-linejoin="miter"/>
<line x1="2143.7" y1="217.9" x2="2143.7" y2="233.9" stroke="#2f3da0" stroke-width="2.4" />
<line x1="2138.5" y1="217.9" x2="2148.9" y2="217.9" stroke="#2f3da0" stroke-width="2.4" />
<line x1="2138.5" y1="233.9" x2="2148.9" y2="233.9" stroke="#2f3da0" stroke-width="2.4" />
<line x1="2138.7" y1="225.9" x2="2148.7" y2="225.9" stroke="#2f3da0" stroke-width="2.2" />
<line x1="2138.7" y1="221.4" x2="2138.7" y2="230.4" stroke="#2f3da0" stroke-width="2.2" />
<line x1="2148.7" y1="221.4" x2="2148.7" y2="230.4" stroke="#2f3da0" stroke-width="2.2" />
<path d="M2143.7 231.2 L2149 222.1 L2138.5 222.1 Z" fill="#fff" stroke="#2f3da0" stroke-width="2" stroke-linejoin="miter"/>
<line x1="2204.3" y1="312.7" x2="2204.3" y2="326.7" stroke="#2f3da0" stroke-width="2.4" />
<line x1="2199.1" y1="312.7" x2="2209.5" y2="312.7" stroke="#2f3da0" stroke-width="2.4" />
<line x1="2199.1" y1="326.7" x2="2209.5" y2="326.7" stroke="#2f3da0" stroke-width="2.4" />
<line x1="2199.3" y1="319.7" x2="2209.3" y2="319.7" stroke="#2f3da0" stroke-width="2.2" />
<line x1="2199.3" y1="315.2" x2="2199.3" y2="324.2" stroke="#2f3da0" stroke-width="2.2" />
<line x1="2209.3" y1="315.2" x2="2209.3" y2="324.2" stroke="#2f3da0" stroke-width="2.2" />
<path d="M2204.3 325 L2209.6 315.9 L2199 315.9 Z" fill="#fff" stroke="#2f3da0" stroke-width="2" stroke-linejoin="miter"/>
<line x1="2239.9" y1="355.9" x2="2239.9" y2="371.9" stroke="#2f3da0" stroke-width="2.4" />
<line x1="2234.7" y1="355.9" x2="2245.1" y2="355.9" stroke="#2f3da0" stroke-width="2.4" />
<line x1="2234.7" y1="371.9" x2="2245.1" y2="371.9" stroke="#2f3da0" stroke-width="2.4" />
<line x1="2235.9" y1="363.9" x2="2243.9" y2="363.9" stroke="#2f3da0" stroke-width="2.2" />
<line x1="2235.9" y1="359.4" x2="2235.9" y2="368.4" stroke="#2f3da0" stroke-width="2.2" />
<line x1="2243.9" y1="359.4" x2="2243.9" y2="368.4" stroke="#2f3da0" stroke-width="2.2" />
<path d="M2239.9 369.2 L2245.2 360.1 L2234.7 360.1 Z" fill="#fff" stroke="#2f3da0" stroke-width="2" stroke-linejoin="miter"/>
<line x1="2253.6" y1="377.9" x2="2253.6" y2="385.9" stroke="#2f3da0" stroke-width="2.4" />
<line x1="2248.4" y1="377.9" x2="2258.8" y2="377.9" stroke="#2f3da0" stroke-width="2.4" />
<line x1="2248.4" y1="385.9" x2="2258.8" y2="385.9" stroke="#2f3da0" stroke-width="2.4" />
<line x1="2248.6" y1="381.9" x2="2258.6" y2="381.9" stroke="#2f3da0" stroke-width="2.2" />
<line x1="2248.6" y1="377.4" x2="2248.6" y2="386.4" stroke="#2f3da0" stroke-width="2.2" />
<line x1="2258.6" y1="377.4" x2="2258.6" y2="386.4" stroke="#2f3da0" stroke-width="2.2" />
<path d="M2253.6 387.1 L2258.9 378.1 L2248.3 378.1 Z" fill="#fff" stroke="#2f3da0" stroke-width="2" stroke-linejoin="miter"/>
<line x1="2281.9" y1="427" x2="2281.9" y2="439" stroke="#2f3da0" stroke-width="2.4" />
<line x1="2276.7" y1="427" x2="2287.1" y2="427" stroke="#2f3da0" stroke-width="2.4" />
<line x1="2276.7" y1="439" x2="2287.1" y2="439" stroke="#2f3da0" stroke-width="2.4" />
<line x1="2278.9" y1="433" x2="2284.9" y2="433" stroke="#2f3da0" stroke-width="2.2" />
<line x1="2278.9" y1="428.5" x2="2278.9" y2="437.5" stroke="#2f3da0" stroke-width="2.2" />
<line x1="2284.9" y1="428.5" x2="2284.9" y2="437.5" stroke="#2f3da0" stroke-width="2.2" />
<path d="M2281.9 438.2 L2287.2 429.2 L2276.7 429.2 Z" fill="#fff" stroke="#2f3da0" stroke-width="2" stroke-linejoin="miter"/>
<line x1="2307.8" y1="469.9" x2="2307.8" y2="479.9" stroke="#2f3da0" stroke-width="2.4" />
<line x1="2302.6" y1="469.9" x2="2313" y2="469.9" stroke="#2f3da0" stroke-width="2.4" />
<line x1="2302.6" y1="479.9" x2="2313" y2="479.9" stroke="#2f3da0" stroke-width="2.4" />
<line x1="2299.8" y1="474.9" x2="2315.8" y2="474.9" stroke="#2f3da0" stroke-width="2.2" />
<line x1="2299.8" y1="470.4" x2="2299.8" y2="479.4" stroke="#2f3da0" stroke-width="2.2" />
<line x1="2315.8" y1="470.4" x2="2315.8" y2="479.4" stroke="#2f3da0" stroke-width="2.2" />
<path d="M2307.8 480.2 L2313.1 471.1 L2302.5 471.1 Z" fill="#fff" stroke="#2f3da0" stroke-width="2" stroke-linejoin="miter"/>
<line x1="1849.8" y1="79.1" x2="1849.8" y2="108.1" stroke="#e02128" stroke-width="2.2" />
<line x1="1844.6" y1="79.1" x2="1855" y2="79.1" stroke="#e02128" stroke-width="2.2" />
<line x1="1844.6" y1="108.1" x2="1855" y2="108.1" stroke="#e02128" stroke-width="2.2" />
<line x1="1843.8" y1="93.6" x2="1855.8" y2="93.6" stroke="#000" stroke-width="2.2" />
<path d="M1854.7 94 L1860.3 94.2 L1866 94.5 L1871.7 94.8 L1877.3 95.2 L1883 95.6 L1888.6 96.1 L1894.3 96.7 L1900 97.3 L1905.6 98 L1911.3 98.8 L1917 99.7 L1922.6 100.6 L1928.3 101.6 L1934 102.8 L1939.6 104 L1945.3 105.3 L1951 106.7 L1956.6 108.2 L1962.3 109.8 L1967.9 111.5 L1973.6 113.3 L1979.3 115.2 L1984.9 117.2 L1990.6 119.4 L1996.3 121.6 L2001.9 124 L2007.6 126.4 L2013.3 129 L2018.9 131.8 L2024.6 134.6 L2030.3 137.6 L2035.9 140.7 L2041.6 144 L2047.2 147.7 L2052.9 151.5 L2058.6 155.5 L2064.2 159.6 L2069.9 163.9 L2075.6 168.3 L2081.2 172.9 L2086.9 177.6 L2092.6 182.5 L2098.2 187.6 L2103.9 192.8 L2109.6 198.2 L2115.2 203.5 L2120.9 208.8 L2126.5 214.3 L2132.2 219.9 L2137.9 225.6 L2143.5 231.5 L2149.2 237.6 L2154.9 243.8 L2160.5 250.1 L2166.2 256.7 L2171.9 263.4 L2177.5 270.2 L2183.2 277.2 L2188.9 284.4 L2194.5 291.7 L2200.2 299.2 L2205.8 306.9 L2211.5 314.8 L2217.2 322.8 L2222.8 330.9 L2228.5 339.3 L2234.2 347.8 L2239.8 356.5 L2245.5 365.4 L2251.2 374.4 L2256.8 383.7 L2262.5 393.1 L2268.2 402.7 L2273.8 412.4 L2279.5 422.4 L2285.1 432.5 L2290.8 442.8 L2296.5 453.3 L2302.1 464 L2307.8 474.9" fill="none" stroke="#7a1717" stroke-width="4.2"/>
<rect x="1819.5" y="47.6" width="537.7" height="447" fill="none" stroke="#000" stroke-width="3.4"/>
<line x1="1917.2" y1="494.6" x2="1917.2" y2="484.6" stroke="#000" stroke-width="3" />
<line x1="1917.2" y1="47.6" x2="1917.2" y2="57.6" stroke="#000" stroke-width="3" />
<line x1="2014.8" y1="494.6" x2="2014.8" y2="484.6" stroke="#000" stroke-width="3" />
<line x1="2014.8" y1="47.6" x2="2014.8" y2="57.6" stroke="#000" stroke-width="3" />
<line x1="2112.5" y1="494.6" x2="2112.5" y2="484.6" stroke="#000" stroke-width="3" />
<line x1="2112.5" y1="47.6" x2="2112.5" y2="57.6" stroke="#000" stroke-width="3" />
<line x1="2210.1" y1="494.6" x2="2210.1" y2="484.6" stroke="#000" stroke-width="3" />
<line x1="2210.1" y1="47.6" x2="2210.1" y2="57.6" stroke="#000" stroke-width="3" />
<line x1="2307.8" y1="494.6" x2="2307.8" y2="484.6" stroke="#000" stroke-width="3" />
<line x1="2307.8" y1="47.6" x2="2307.8" y2="57.6" stroke="#000" stroke-width="3" />
<line x1="1868.3" y1="494.6" x2="1868.3" y2="489.1" stroke="#000" stroke-width="3" />
<line x1="1868.3" y1="47.6" x2="1868.3" y2="53.1" stroke="#000" stroke-width="3" />
<line x1="1966" y1="494.6" x2="1966" y2="489.1" stroke="#000" stroke-width="3" />
<line x1="1966" y1="47.6" x2="1966" y2="53.1" stroke="#000" stroke-width="3" />
<line x1="2063.7" y1="494.6" x2="2063.7" y2="489.1" stroke="#000" stroke-width="3" />
<line x1="2063.7" y1="47.6" x2="2063.7" y2="53.1" stroke="#000" stroke-width="3" />
<line x1="2161.3" y1="494.6" x2="2161.3" y2="489.1" stroke="#000" stroke-width="3" />
<line x1="2161.3" y1="47.6" x2="2161.3" y2="53.1" stroke="#000" stroke-width="3" />
<line x1="2259" y1="494.6" x2="2259" y2="489.1" stroke="#000" stroke-width="3" />
<line x1="2259" y1="47.6" x2="2259" y2="53.1" stroke="#000" stroke-width="3" />
<line x1="1819.5" y1="474.9" x2="1829.5" y2="474.9" stroke="#000" stroke-width="3" />
<line x1="2357.2" y1="474.9" x2="2347.2" y2="474.9" stroke="#000" stroke-width="3" />
<line x1="1819.5" y1="398.6" x2="1829.5" y2="398.6" stroke="#000" stroke-width="3" />
<line x1="2357.2" y1="398.6" x2="2347.2" y2="398.6" stroke="#000" stroke-width="3" />
<line x1="1819.5" y1="322.4" x2="1829.5" y2="322.4" stroke="#000" stroke-width="3" />
<line x1="2357.2" y1="322.4" x2="2347.2" y2="322.4" stroke="#000" stroke-width="3" />
<line x1="1819.5" y1="246.1" x2="1829.5" y2="246.1" stroke="#000" stroke-width="3" />
<line x1="2357.2" y1="246.1" x2="2347.2" y2="246.1" stroke="#000" stroke-width="3" />
<line x1="1819.5" y1="169.9" x2="1829.5" y2="169.9" stroke="#000" stroke-width="3" />
<line x1="2357.2" y1="169.9" x2="2347.2" y2="169.9" stroke="#000" stroke-width="3" />
<line x1="1819.5" y1="93.6" x2="1829.5" y2="93.6" stroke="#000" stroke-width="3" />
<line x1="2357.2" y1="93.6" x2="2347.2" y2="93.6" stroke="#000" stroke-width="3" />
<line x1="1819.5" y1="436.8" x2="1825" y2="436.8" stroke="#000" stroke-width="3" />
<line x1="2357.2" y1="436.8" x2="2351.7" y2="436.8" stroke="#000" stroke-width="3" />
<line x1="1819.5" y1="360.5" x2="1825" y2="360.5" stroke="#000" stroke-width="3" />
<line x1="2357.2" y1="360.5" x2="2351.7" y2="360.5" stroke="#000" stroke-width="3" />
<line x1="1819.5" y1="284.2" x2="1825" y2="284.2" stroke="#000" stroke-width="3" />
<line x1="2357.2" y1="284.2" x2="2351.7" y2="284.2" stroke="#000" stroke-width="3" />
<line x1="1819.5" y1="208" x2="1825" y2="208" stroke="#000" stroke-width="3" />
<line x1="2357.2" y1="208" x2="2351.7" y2="208" stroke="#000" stroke-width="3" />
<line x1="1819.5" y1="131.7" x2="1825" y2="131.7" stroke="#000" stroke-width="3" />
<line x1="2357.2" y1="131.7" x2="2351.7" y2="131.7" stroke="#000" stroke-width="3" />
<line x1="1819.5" y1="55.5" x2="1825" y2="55.5" stroke="#000" stroke-width="3" />
<line x1="2357.2" y1="55.5" x2="2351.7" y2="55.5" stroke="#000" stroke-width="3" />
<text x="1808.5" y="485.1" font-size="33.5" text-anchor="end" fill="#000" textLength="44.2" lengthAdjust="spacingAndGlyphs" >0.0</text>
<text x="1808.5" y="408.8" font-size="33.5" text-anchor="end" fill="#000" textLength="44.2" lengthAdjust="spacingAndGlyphs" >0.2</text>
<text x="1808.5" y="332.6" font-size="33.5" text-anchor="end" fill="#000" textLength="44.2" lengthAdjust="spacingAndGlyphs" >0.4</text>
<text x="1808.5" y="256.3" font-size="33.5" text-anchor="end" fill="#000" textLength="44.2" lengthAdjust="spacingAndGlyphs" >0.6</text>
<text x="1808.5" y="180.1" font-size="33.5" text-anchor="end" fill="#000" textLength="44.2" lengthAdjust="spacingAndGlyphs" >0.8</text>
<text x="1808.5" y="103.8" font-size="33.5" text-anchor="end" fill="#000" textLength="44.2" lengthAdjust="spacingAndGlyphs" >1.0</text>
<text x="1819" y="530.6" font-size="33.5" text-anchor="middle" fill="#000" textLength="44.2" lengthAdjust="spacingAndGlyphs" >0.0</text>
<text x="1916.7" y="530.6" font-size="33.5" text-anchor="middle" fill="#000" textLength="44.2" lengthAdjust="spacingAndGlyphs" >0.2</text>
<text x="2014.3" y="530.6" font-size="33.5" text-anchor="middle" fill="#000" textLength="44.2" lengthAdjust="spacingAndGlyphs" >0.4</text>
<text x="2112" y="530.6" font-size="33.5" text-anchor="middle" fill="#000" textLength="44.2" lengthAdjust="spacingAndGlyphs" >0.6</text>
<text x="2209.6" y="530.6" font-size="33.5" text-anchor="middle" fill="#000" textLength="44.2" lengthAdjust="spacingAndGlyphs" >0.8</text>
<text x="2307.3" y="530.6" font-size="33.5" text-anchor="middle" fill="#000" textLength="44.2" lengthAdjust="spacingAndGlyphs" >1.0</text>
<text x="2088" y="577.7" font-size="35.5" text-anchor="middle" fill="#000" textLength="62.6" lengthAdjust="spacingAndGlyphs" >T/T<tspan font-size="0.5em">0</tspan></text>
<text x="1750" y="454" font-size="36" text-anchor="start" fill="#000" textLength="82" lengthAdjust="spacingAndGlyphs" transform="rotate(-90 1750 454)" ><tspan font-family="Liberation Serif" font-weight="normal" font-size="1.0em">Δ</tspan>V<tspan font-size="0.45em">0</tspan> /</text>
<text x="1750" y="362.8" font-size="36" text-anchor="start" fill="#e8211f" textLength="214" lengthAdjust="spacingAndGlyphs" transform="rotate(-90 1750 362.8)" ><tspan font-family="Liberation Serif" font-weight="normal" font-size="1.0em">Δ</tspan>V<tspan font-size="0.45em">0</tspan>(T=0.4K)</text>
<text x="2248" y="119" font-size="32.5" text-anchor="start" fill="#000" textLength="38" lengthAdjust="spacingAndGlyphs" >S1</text>
<text x="1871.5" y="187.2" font-size="37" text-anchor="start" fill="#000" textLength="89.5" lengthAdjust="spacingAndGlyphs" >I (<tspan font-family="Liberation Serif" font-weight="normal" font-size="1.0em">μ</tspan>A)</text>
<rect x="1876" y="214.8" width="9" height="9" fill="#fff" stroke="#e02128" stroke-width="2.4"/>
<text x="1911" y="227.3" font-size="28.5" text-anchor="start" fill="#000" >0.1</text>
<circle cx="1880.5" cy="256.5" r="4.5" fill="#fff" stroke="#f0841f" stroke-width="2.4"/>
<text x="1911" y="264.5" font-size="28.5" text-anchor="start" fill="#000" >0.5</text>
<path d="M1880.5 288.8 L1886.4 298.9 L1874.6 298.9 Z" fill="#fff" stroke="#177d78" stroke-width="2.4" stroke-linejoin="miter"/>
<text x="1911" y="301.2" font-size="28.5" text-anchor="start" fill="#000" >1.0</text>
<path d="M1880.5 335.7 L1886.4 325.6 L1874.6 325.6 Z" fill="#fff" stroke="#2f3da0" stroke-width="2.4" stroke-linejoin="miter"/>
<text x="1911" y="338.3" font-size="28.5" text-anchor="start" fill="#000" >2.0</text>
<path d="M1880.5 360.5 L1887.3 367.3 L1880.5 374.1 L1873.7 367.3 Z" fill="#fff" stroke="#6a2283" stroke-width="2.4"/>
<text x="1911" y="375.3" font-size="28.5" text-anchor="start" fill="#000" >5.0</text>
<path d="M1874.6 404.4 L1884.7 398.5 L1884.7 410.3 Z" fill="#fff" stroke="#000" stroke-width="2.4" stroke-linejoin="miter"/>
<text x="1911" y="412.4" font-size="28.5" text-anchor="start" fill="#000" >10</text>
<line x1="1861" y1="447.6" x2="1900.5" y2="447.6" stroke="#7a1717" stroke-width="3.6" stroke-linecap="round"/>
<text x="1919.5" y="461" font-size="36.5" text-anchor="start" fill="#000" textLength="108" lengthAdjust="spacingAndGlyphs" >Fitting</text>
<text x="1710" y="98.8" font-size="55.5" text-anchor="middle" fill="#000" textLength="61.4" lengthAdjust="spacingAndGlyphs" >(c)</text>
</g>
<g id="pd">
<line x1="1141.7" y1="732.1" x2="1141.7" y2="748.1" stroke="#3648ae" stroke-width="2.2" />
<line x1="1136.7" y1="732.1" x2="1146.7" y2="732.1" stroke="#3648ae" stroke-width="2.2" />
<line x1="1136.7" y1="748.1" x2="1146.7" y2="748.1" stroke="#3648ae" stroke-width="2.2" />
<rect x="1136.2" y="734.6" width="11" height="11" fill="#3648ae"/>
<line x1="1244.2" y1="747.5" x2="1244.2" y2="764.5" stroke="#3648ae" stroke-width="2.2" />
<line x1="1239.2" y1="747.5" x2="1249.2" y2="747.5" stroke="#3648ae" stroke-width="2.2" />
<line x1="1239.2" y1="764.5" x2="1249.2" y2="764.5" stroke="#3648ae" stroke-width="2.2" />
<rect x="1238.7" y="750.5" width="11" height="11" fill="#3648ae"/>
<line x1="1318" y1="772.4" x2="1318" y2="786.4" stroke="#3648ae" stroke-width="2.2" />
<line x1="1313" y1="772.4" x2="1323" y2="772.4" stroke="#3648ae" stroke-width="2.2" />
<line x1="1313" y1="786.4" x2="1323" y2="786.4" stroke="#3648ae" stroke-width="2.2" />
<line x1="1311" y1="779.4" x2="1325" y2="779.4" stroke="#3648ae" stroke-width="2.2" />
<line x1="1311" y1="774.4" x2="1311" y2="784.4" stroke="#3648ae" stroke-width="2.2" />
<line x1="1325" y1="774.4" x2="1325" y2="784.4" stroke="#3648ae" stroke-width="2.2" />
<rect x="1312.5" y="773.9" width="11" height="11" fill="#3648ae"/>
<line x1="1359.5" y1="811.4" x2="1359.5" y2="826.4" stroke="#3648ae" stroke-width="2.2" />
<line x1="1354.5" y1="811.4" x2="1364.5" y2="811.4" stroke="#3648ae" stroke-width="2.2" />
<line x1="1354.5" y1="826.4" x2="1364.5" y2="826.4" stroke="#3648ae" stroke-width="2.2" />
<rect x="1354" y="813.4" width="11" height="11" fill="#3648ae"/>
<line x1="1416.8" y1="863.1" x2="1416.8" y2="879.1" stroke="#3648ae" stroke-width="2.2" />
<line x1="1411.8" y1="863.1" x2="1421.8" y2="863.1" stroke="#3648ae" stroke-width="2.2" />
<line x1="1411.8" y1="879.1" x2="1421.8" y2="879.1" stroke="#3648ae" stroke-width="2.2" />
<rect x="1411.3" y="865.6" width="11" height="11" fill="#3648ae"/>
<line x1="1472" y1="958.4" x2="1472" y2="974.4" stroke="#3648ae" stroke-width="2.2" />
<line x1="1467" y1="958.4" x2="1477" y2="958.4" stroke="#3648ae" stroke-width="2.2" />
<line x1="1467" y1="974.4" x2="1477" y2="974.4" stroke="#3648ae" stroke-width="2.2" />
<rect x="1466.5" y="960.9" width="11" height="11" fill="#3648ae"/>
<line x1="1505.7" y1="1000.7" x2="1505.7" y2="1018.7" stroke="#3648ae" stroke-width="2.2" />
<line x1="1500.7" y1="1000.7" x2="1510.7" y2="1000.7" stroke="#3648ae" stroke-width="2.2" />
<line x1="1500.7" y1="1018.7" x2="1510.7" y2="1018.7" stroke="#3648ae" stroke-width="2.2" />
<rect x="1500.2" y="1004.2" width="11" height="11" fill="#3648ae"/>
<rect x="1512.3" y="1020.8" width="11" height="11" fill="#3648ae"/>
<line x1="1544.3" y1="1072" x2="1544.3" y2="1084" stroke="#3648ae" stroke-width="2.2" />
<line x1="1539.3" y1="1072" x2="1549.3" y2="1072" stroke="#3648ae" stroke-width="2.2" />
<line x1="1539.3" y1="1084" x2="1549.3" y2="1084" stroke="#3648ae" stroke-width="2.2" />
<rect x="1538.8" y="1072.5" width="11" height="11" fill="#3648ae"/>
<rect x="1562.5" y="1113.3" width="11" height="11" fill="#3648ae"/>
<line x1="1143.2" y1="979.1" x2="1143.2" y2="987.1" stroke="#f0841f" stroke-width="2.2" />
<line x1="1138.7" y1="979.1" x2="1147.7" y2="979.1" stroke="#f0841f" stroke-width="2.2" />
<line x1="1138.7" y1="987.1" x2="1147.7" y2="987.1" stroke="#f0841f" stroke-width="2.2" />
<rect x="1137.2" y="977.5" width="12" height="11.2" rx="3.4" fill="#f0841f"/>
<line x1="1153.9" y1="980.9" x2="1153.9" y2="992.9" stroke="#f0841f" stroke-width="2.2" />
<line x1="1149.4" y1="980.9" x2="1158.4" y2="980.9" stroke="#f0841f" stroke-width="2.2" />
<line x1="1149.4" y1="992.9" x2="1158.4" y2="992.9" stroke="#f0841f" stroke-width="2.2" />
<rect x="1147.9" y="981.3" width="12" height="11.2" rx="3.4" fill="#f0841f"/>
<line x1="1179" y1="997.5" x2="1179" y2="1007.5" stroke="#f0841f" stroke-width="2.2" />
<line x1="1174.5" y1="997.5" x2="1183.5" y2="997.5" stroke="#f0841f" stroke-width="2.2" />
<line x1="1174.5" y1="1007.5" x2="1183.5" y2="1007.5" stroke="#f0841f" stroke-width="2.2" />
<line x1="1168" y1="1002.5" x2="1190" y2="1002.5" stroke="#f0841f" stroke-width="2.2" />
<line x1="1168" y1="997.5" x2="1168" y2="1007.5" stroke="#f0841f" stroke-width="2.2" />
<line x1="1190" y1="997.5" x2="1190" y2="1007.5" stroke="#f0841f" stroke-width="2.2" />
<rect x="1173" y="996.9" width="12" height="11.2" rx="3.4" fill="#f0841f"/>
<line x1="1202.5" y1="1023.9" x2="1218.5" y2="1023.9" stroke="#f0841f" stroke-width="2.2" />
<line x1="1202.5" y1="1018.9" x2="1202.5" y2="1028.9" stroke="#f0841f" stroke-width="2.2" />
<line x1="1218.5" y1="1018.9" x2="1218.5" y2="1028.9" stroke="#f0841f" stroke-width="2.2" />
<rect x="1204.5" y="1018.3" width="12" height="11.2" rx="3.4" fill="#f0841f"/>
<line x1="1247" y1="1053.2" x2="1247" y2="1059.2" stroke="#f0841f" stroke-width="2.2" />
<line x1="1242.5" y1="1053.2" x2="1251.5" y2="1053.2" stroke="#f0841f" stroke-width="2.2" />
<line x1="1242.5" y1="1059.2" x2="1251.5" y2="1059.2" stroke="#f0841f" stroke-width="2.2" />
<line x1="1243" y1="1056.2" x2="1251" y2="1056.2" stroke="#f0841f" stroke-width="2.2" />
<line x1="1243" y1="1051.2" x2="1243" y2="1061.2" stroke="#f0841f" stroke-width="2.2" />
<line x1="1251" y1="1051.2" x2="1251" y2="1061.2" stroke="#f0841f" stroke-width="2.2" />
<rect x="1241" y="1050.6" width="12" height="11.2" rx="3.4" fill="#f0841f"/>
<line x1="1270.6" y1="1118.8" x2="1286.6" y2="1118.8" stroke="#f0841f" stroke-width="2.2" />
<line x1="1270.6" y1="1113.8" x2="1270.6" y2="1123.8" stroke="#f0841f" stroke-width="2.2" />
<line x1="1286.6" y1="1113.8" x2="1286.6" y2="1123.8" stroke="#f0841f" stroke-width="2.2" />
<rect x="1272.6" y="1113.2" width="12" height="11.2" rx="3.4" fill="#f0841f"/>
<line x1="1137.9" y1="1104.8" x2="1150.9" y2="1104.8" stroke="#b341a6" stroke-width="1.6" />
<path d="M1136.6 1104.1 L1151.1 1104.1 L1143.9 1116.6 Z" fill="#b341a6"/>
<line x1="1152.2" y1="1106.7" x2="1165.2" y2="1106.7" stroke="#b341a6" stroke-width="1.6" />
<path d="M1151 1106 L1165.5 1106 L1158.2 1118.5 Z" fill="#b341a6"/>
<line x1="1159.4" y1="1107.7" x2="1172.4" y2="1107.7" stroke="#b341a6" stroke-width="1.6" />
<path d="M1158.1 1106.9 L1172.6 1106.9 L1165.4 1119.4 Z" fill="#b341a6"/>
<line x1="1166.5" y1="1107.7" x2="1179.5" y2="1107.7" stroke="#b341a6" stroke-width="1.6" />
<path d="M1165.3 1106.9 L1179.8 1106.9 L1172.5 1119.4 Z" fill="#b341a6"/>
<line x1="1180.1" y1="1110.5" x2="1193.1" y2="1110.5" stroke="#b341a6" stroke-width="1.6" />
<path d="M1178.9 1109.8 L1193.4 1109.8 L1186.1 1122.3 Z" fill="#b341a6"/>
<line x1="1193" y1="1114.8" x2="1206" y2="1114.8" stroke="#b341a6" stroke-width="1.6" />
<path d="M1191.8 1114 L1206.3 1114 L1199 1126.5 Z" fill="#b341a6"/>
<rect x="1078.4" y="692" width="537.6" height="446" fill="none" stroke="#000" stroke-width="3.4"/>
<line x1="1114.5" y1="1138" x2="1114.5" y2="1128" stroke="#000" stroke-width="3" />
<line x1="1114.5" y1="692" x2="1114.5" y2="702" stroke="#000" stroke-width="3" />
<line x1="1186.1" y1="1138" x2="1186.1" y2="1128" stroke="#000" stroke-width="3" />
<line x1="1186.1" y1="692" x2="1186.1" y2="702" stroke="#000" stroke-width="3" />
<line x1="1257.8" y1="1138" x2="1257.8" y2="1128" stroke="#000" stroke-width="3" />
<line x1="1257.8" y1="692" x2="1257.8" y2="702" stroke="#000" stroke-width="3" />
<line x1="1329.4" y1="1138" x2="1329.4" y2="1128" stroke="#000" stroke-width="3" />
<line x1="1329.4" y1="692" x2="1329.4" y2="702" stroke="#000" stroke-width="3" />
<line x1="1401.1" y1="1138" x2="1401.1" y2="1128" stroke="#000" stroke-width="3" />
<line x1="1401.1" y1="692" x2="1401.1" y2="702" stroke="#000" stroke-width="3" />
<line x1="1472.7" y1="1138" x2="1472.7" y2="1128" stroke="#000" stroke-width="3" />
<line x1="1472.7" y1="692" x2="1472.7" y2="702" stroke="#000" stroke-width="3" />
<line x1="1544.3" y1="1138" x2="1544.3" y2="1128" stroke="#000" stroke-width="3" />
<line x1="1544.3" y1="692" x2="1544.3" y2="702" stroke="#000" stroke-width="3" />
<line x1="1150.3" y1="1138" x2="1150.3" y2="1132.5" stroke="#000" stroke-width="3" />
<line x1="1150.3" y1="692" x2="1150.3" y2="697.5" stroke="#000" stroke-width="3" />
<line x1="1222" y1="1138" x2="1222" y2="1132.5" stroke="#000" stroke-width="3" />
<line x1="1222" y1="692" x2="1222" y2="697.5" stroke="#000" stroke-width="3" />
<line x1="1293.6" y1="1138" x2="1293.6" y2="1132.5" stroke="#000" stroke-width="3" />
<line x1="1293.6" y1="692" x2="1293.6" y2="697.5" stroke="#000" stroke-width="3" />
<line x1="1365.2" y1="1138" x2="1365.2" y2="1132.5" stroke="#000" stroke-width="3" />
<line x1="1365.2" y1="692" x2="1365.2" y2="697.5" stroke="#000" stroke-width="3" />
<line x1="1436.9" y1="1138" x2="1436.9" y2="1132.5" stroke="#000" stroke-width="3" />
<line x1="1436.9" y1="692" x2="1436.9" y2="697.5" stroke="#000" stroke-width="3" />
<line x1="1508.5" y1="1138" x2="1508.5" y2="1132.5" stroke="#000" stroke-width="3" />
<line x1="1508.5" y1="692" x2="1508.5" y2="697.5" stroke="#000" stroke-width="3" />
<line x1="1580.2" y1="1138" x2="1580.2" y2="1132.5" stroke="#000" stroke-width="3" />
<line x1="1580.2" y1="692" x2="1580.2" y2="697.5" stroke="#000" stroke-width="3" />
<line x1="1078.4" y1="1118.8" x2="1088.4" y2="1118.8" stroke="#000" stroke-width="3" />
<line x1="1616" y1="1118.8" x2="1606" y2="1118.8" stroke="#000" stroke-width="3" />
<line x1="1078.4" y1="1023.9" x2="1088.4" y2="1023.9" stroke="#000" stroke-width="3" />
<line x1="1616" y1="1023.9" x2="1606" y2="1023.9" stroke="#000" stroke-width="3" />
<line x1="1078.4" y1="929" x2="1088.4" y2="929" stroke="#000" stroke-width="3" />
<line x1="1616" y1="929" x2="1606" y2="929" stroke="#000" stroke-width="3" />
<line x1="1078.4" y1="834.1" x2="1088.4" y2="834.1" stroke="#000" stroke-width="3" />
<line x1="1616" y1="834.1" x2="1606" y2="834.1" stroke="#000" stroke-width="3" />
<line x1="1078.4" y1="739.2" x2="1088.4" y2="739.2" stroke="#000" stroke-width="3" />
<line x1="1616" y1="739.2" x2="1606" y2="739.2" stroke="#000" stroke-width="3" />
<line x1="1078.4" y1="1095.1" x2="1083.9" y2="1095.1" stroke="#000" stroke-width="3" />
<line x1="1616" y1="1095.1" x2="1610.5" y2="1095.1" stroke="#000" stroke-width="3" />
<line x1="1078.4" y1="1071.3" x2="1083.9" y2="1071.3" stroke="#000" stroke-width="3" />
<line x1="1616" y1="1071.3" x2="1610.5" y2="1071.3" stroke="#000" stroke-width="3" />
<line x1="1078.4" y1="1047.6" x2="1083.9" y2="1047.6" stroke="#000" stroke-width="3" />
<line x1="1616" y1="1047.6" x2="1610.5" y2="1047.6" stroke="#000" stroke-width="3" />
<line x1="1078.4" y1="1000.2" x2="1083.9" y2="1000.2" stroke="#000" stroke-width="3" />
<line x1="1616" y1="1000.2" x2="1610.5" y2="1000.2" stroke="#000" stroke-width="3" />
<line x1="1078.4" y1="976.4" x2="1083.9" y2="976.4" stroke="#000" stroke-width="3" />
<line x1="1616" y1="976.4" x2="1610.5" y2="976.4" stroke="#000" stroke-width="3" />
<line x1="1078.4" y1="952.7" x2="1083.9" y2="952.7" stroke="#000" stroke-width="3" />
<line x1="1616" y1="952.7" x2="1610.5" y2="952.7" stroke="#000" stroke-width="3" />
<line x1="1078.4" y1="905.3" x2="1083.9" y2="905.3" stroke="#000" stroke-width="3" />
<line x1="1616" y1="905.3" x2="1610.5" y2="905.3" stroke="#000" stroke-width="3" />
<line x1="1078.4" y1="881.5" x2="1083.9" y2="881.5" stroke="#000" stroke-width="3" />
<line x1="1616" y1="881.5" x2="1610.5" y2="881.5" stroke="#000" stroke-width="3" />
<line x1="1078.4" y1="857.8" x2="1083.9" y2="857.8" stroke="#000" stroke-width="3" />
<line x1="1616" y1="857.8" x2="1610.5" y2="857.8" stroke="#000" stroke-width="3" />
<line x1="1078.4" y1="810.4" x2="1083.9" y2="810.4" stroke="#000" stroke-width="3" />
<line x1="1616" y1="810.4" x2="1610.5" y2="810.4" stroke="#000" stroke-width="3" />
<line x1="1078.4" y1="786.6" x2="1083.9" y2="786.6" stroke="#000" stroke-width="3" />
<line x1="1616" y1="786.6" x2="1610.5" y2="786.6" stroke="#000" stroke-width="3" />
<line x1="1078.4" y1="762.9" x2="1083.9" y2="762.9" stroke="#000" stroke-width="3" />
<line x1="1616" y1="762.9" x2="1610.5" y2="762.9" stroke="#000" stroke-width="3" />
<line x1="1078.4" y1="715.5" x2="1083.9" y2="715.5" stroke="#000" stroke-width="3" />
<line x1="1616" y1="715.5" x2="1610.5" y2="715.5" stroke="#000" stroke-width="3" />
<line x1="1078.4" y1="691.8" x2="1083.9" y2="691.8" stroke="#000" stroke-width="3" />
<line x1="1616" y1="691.8" x2="1610.5" y2="691.8" stroke="#000" stroke-width="3" />
<text x="1068" y="1128.8" font-size="33.5" text-anchor="end" fill="#000" textLength="17.9" lengthAdjust="spacingAndGlyphs" >0</text>
<text x="1068" y="1033.9" font-size="33.5" text-anchor="end" fill="#000" textLength="53.6" lengthAdjust="spacingAndGlyphs" >100</text>
<text x="1068" y="939" font-size="33.5" text-anchor="end" fill="#000" textLength="53.6" lengthAdjust="spacingAndGlyphs" >200</text>
<text x="1068" y="844.1" font-size="33.5" text-anchor="end" fill="#000" textLength="53.6" lengthAdjust="spacingAndGlyphs" >300</text>
<text x="1068" y="749.2" font-size="33.5" text-anchor="end" fill="#000" textLength="53.6" lengthAdjust="spacingAndGlyphs" >400</text>
<text x="1114.5" y="1174.4" font-size="33.5" text-anchor="middle" fill="#000" >0</text>
<text x="1186.1" y="1174.4" font-size="33.5" text-anchor="middle" fill="#000" >1</text>
<text x="1257.8" y="1174.4" font-size="33.5" text-anchor="middle" fill="#000" >2</text>
<text x="1329.4" y="1174.4" font-size="33.5" text-anchor="middle" fill="#000" >3</text>
<text x="1401.1" y="1174.4" font-size="33.5" text-anchor="middle" fill="#000" >4</text>
<text x="1472.7" y="1174.4" font-size="33.5" text-anchor="middle" fill="#000" >5</text>
<text x="1544.3" y="1174.4" font-size="33.5" text-anchor="middle" fill="#000" >6</text>
<text x="1616" y="1174.4" font-size="33.5" text-anchor="middle" fill="#000" >7</text>
<text x="1346.8" y="1215.2" font-size="36.5" text-anchor="middle" fill="#000" textLength="81" lengthAdjust="spacingAndGlyphs" >T (K)</text>
<text x="991" y="886.5" font-size="38.5" text-anchor="middle" fill="#000" textLength="155" lengthAdjust="spacingAndGlyphs" transform="rotate(-90 991 886.5)" ><tspan font-family="Liberation Serif" font-weight="normal" font-size="1.0em">Δ</tspan>V<tspan font-size="19.2" dy="10">0p</tspan><tspan dy="-10"> (<tspan font-family="Liberation Serif" font-weight="normal" font-size="1.0em">μ</tspan>V)</tspan></text>
<text x="1161.5" y="1092" font-size="34.5" text-anchor="start" fill="#000" textLength="40.5" lengthAdjust="spacingAndGlyphs" >S2</text>
<text x="1278.5" y="1051.6" font-size="34.5" text-anchor="start" fill="#000" textLength="41.5" lengthAdjust="spacingAndGlyphs" >S4</text>
<text x="1517.5" y="983" font-size="34.5" text-anchor="start" fill="#000" textLength="38.5" lengthAdjust="spacingAndGlyphs" >S1</text>
<text x="956" y="741.2" font-size="55.5" text-anchor="middle" fill="#000" >(d)</text>
</g>
<g id="pe">
<line x1="1904" y1="733.3" x2="1904" y2="759.3" stroke="#d0b078" stroke-width="1.5" />
<line x1="1899.5" y1="733.3" x2="1908.5" y2="733.3" stroke="#d0b078" stroke-width="1.5" />
<line x1="1899.5" y1="759.3" x2="1908.5" y2="759.3" stroke="#d0b078" stroke-width="1.5" />
<line x1="1935.7" y1="740.5" x2="1935.7" y2="773.5" stroke="#d0b078" stroke-width="1.5" />
<line x1="1931.2" y1="740.5" x2="1940.2" y2="740.5" stroke="#d0b078" stroke-width="1.5" />
<line x1="1931.2" y1="773.5" x2="1940.2" y2="773.5" stroke="#d0b078" stroke-width="1.5" />
<line x1="1925.7" y1="757" x2="1945.7" y2="757" stroke="#d0b078" stroke-width="1.5" />
<line x1="1925.7" y1="752.5" x2="1925.7" y2="761.5" stroke="#d0b078" stroke-width="1.5" />
<line x1="1945.7" y1="752.5" x2="1945.7" y2="761.5" stroke="#d0b078" stroke-width="1.5" />
<line x1="2009.4" y1="785.3" x2="2009.4" y2="813.3" stroke="#d0b078" stroke-width="1.5" />
<line x1="2004.9" y1="785.3" x2="2013.9" y2="785.3" stroke="#d0b078" stroke-width="1.5" />
<line x1="2004.9" y1="813.3" x2="2013.9" y2="813.3" stroke="#d0b078" stroke-width="1.5" />
<line x1="1977.4" y1="799.3" x2="2041.4" y2="799.3" stroke="#d0b078" stroke-width="1.5" />
<line x1="1977.4" y1="794.8" x2="1977.4" y2="803.8" stroke="#d0b078" stroke-width="1.5" />
<line x1="2041.4" y1="794.8" x2="2041.4" y2="803.8" stroke="#d0b078" stroke-width="1.5" />
<line x1="2105.6" y1="852.3" x2="2105.6" y2="860.3" stroke="#d0b078" stroke-width="1.5" />
<line x1="2101.1" y1="852.3" x2="2110.1" y2="852.3" stroke="#d0b078" stroke-width="1.5" />
<line x1="2101.1" y1="860.3" x2="2110.1" y2="860.3" stroke="#d0b078" stroke-width="1.5" />
<line x1="2083.6" y1="856.3" x2="2127.6" y2="856.3" stroke="#d0b078" stroke-width="1.5" />
<line x1="2083.6" y1="851.8" x2="2083.6" y2="860.8" stroke="#d0b078" stroke-width="1.5" />
<line x1="2127.6" y1="851.8" x2="2127.6" y2="860.8" stroke="#d0b078" stroke-width="1.5" />
<line x1="2213.1" y1="936.5" x2="2213.1" y2="946.5" stroke="#d0b078" stroke-width="1.5" />
<line x1="2208.6" y1="936.5" x2="2217.6" y2="936.5" stroke="#d0b078" stroke-width="1.5" />
<line x1="2208.6" y1="946.5" x2="2217.6" y2="946.5" stroke="#d0b078" stroke-width="1.5" />
<line x1="2198.1" y1="941.5" x2="2228.1" y2="941.5" stroke="#d0b078" stroke-width="1.5" />
<line x1="2198.1" y1="937" x2="2198.1" y2="946" stroke="#d0b078" stroke-width="1.5" />
<line x1="2228.1" y1="937" x2="2228.1" y2="946" stroke="#d0b078" stroke-width="1.5" />
<line x1="2286.8" y1="1104.5" x2="2328.8" y2="1104.5" stroke="#d0b078" stroke-width="1.5" />
<line x1="2286.8" y1="1100" x2="2286.8" y2="1109" stroke="#d0b078" stroke-width="1.5" />
<line x1="2328.8" y1="1100" x2="2328.8" y2="1109" stroke="#d0b078" stroke-width="1.5" />
<line x1="1988.5" y1="765.9" x2="1988.5" y2="781.9" stroke="#c070b8" stroke-width="1.5" />
<line x1="1984" y1="765.9" x2="1993" y2="765.9" stroke="#c070b8" stroke-width="1.5" />
<line x1="1984" y1="781.9" x2="1993" y2="781.9" stroke="#c070b8" stroke-width="1.5" />
<line x1="2071" y1="820.8" x2="2071" y2="838.8" stroke="#c070b8" stroke-width="1.5" />
<line x1="2066.5" y1="820.8" x2="2075.5" y2="820.8" stroke="#c070b8" stroke-width="1.5" />
<line x1="2066.5" y1="838.8" x2="2075.5" y2="838.8" stroke="#c070b8" stroke-width="1.5" />
<line x1="2063" y1="829.8" x2="2079" y2="829.8" stroke="#c8362e" stroke-width="1.8" />
<line x1="2063" y1="825.3" x2="2063" y2="834.3" stroke="#c8362e" stroke-width="1.8" />
<line x1="2079" y1="825.3" x2="2079" y2="834.3" stroke="#c8362e" stroke-width="1.8" />
<line x1="2111" y1="842.8" x2="2111" y2="874.8" stroke="#c070b8" stroke-width="1.5" />
<line x1="2106.5" y1="842.8" x2="2115.5" y2="842.8" stroke="#c070b8" stroke-width="1.5" />
<line x1="2106.5" y1="874.8" x2="2115.5" y2="874.8" stroke="#c070b8" stroke-width="1.5" />
<line x1="2150.1" y1="880.7" x2="2150.1" y2="912.7" stroke="#c070b8" stroke-width="1.5" />
<line x1="2145.6" y1="880.7" x2="2154.6" y2="880.7" stroke="#c070b8" stroke-width="1.5" />
<line x1="2145.6" y1="912.7" x2="2154.6" y2="912.7" stroke="#c070b8" stroke-width="1.5" />
<line x1="2136.1" y1="896.7" x2="2164.1" y2="896.7" stroke="#c8362e" stroke-width="1.8" />
<line x1="2136.1" y1="892.2" x2="2136.1" y2="901.2" stroke="#c8362e" stroke-width="1.8" />
<line x1="2164.1" y1="892.2" x2="2164.1" y2="901.2" stroke="#c8362e" stroke-width="1.8" />
<line x1="2232.1" y1="975.4" x2="2232.1" y2="1009.4" stroke="#c070b8" stroke-width="1.5" />
<line x1="2227.6" y1="975.4" x2="2236.6" y2="975.4" stroke="#c070b8" stroke-width="1.5" />
<line x1="2227.6" y1="1009.4" x2="2236.6" y2="1009.4" stroke="#c070b8" stroke-width="1.5" />
<line x1="2219.1" y1="992.4" x2="2245.1" y2="992.4" stroke="#c8362e" stroke-width="1.8" />
<line x1="2219.1" y1="987.9" x2="2219.1" y2="996.9" stroke="#c8362e" stroke-width="1.8" />
<line x1="2245.1" y1="987.9" x2="2245.1" y2="996.9" stroke="#c8362e" stroke-width="1.8" />
<line x1="2299.8" y1="1104.5" x2="2315.8" y2="1104.5" stroke="#c8362e" stroke-width="1.8" />
<line x1="2299.8" y1="1100" x2="2299.8" y2="1109" stroke="#c8362e" stroke-width="1.8" />
<line x1="2315.8" y1="1100" x2="2315.8" y2="1109" stroke="#c8362e" stroke-width="1.8" />
<line x1="1849.8" y1="740.3" x2="1849.8" y2="752.3" stroke="#3648ae" stroke-width="1.6" />
<line x1="1845.3" y1="740.3" x2="1854.3" y2="740.3" stroke="#3648ae" stroke-width="1.6" />
<line x1="1845.3" y1="752.3" x2="1854.3" y2="752.3" stroke="#3648ae" stroke-width="1.6" />
<line x1="1959.6" y1="754.4" x2="1959.6" y2="770.4" stroke="#3648ae" stroke-width="1.6" />
<line x1="1955.1" y1="754.4" x2="1964.1" y2="754.4" stroke="#3648ae" stroke-width="1.6" />
<line x1="1955.1" y1="770.4" x2="1964.1" y2="770.4" stroke="#3648ae" stroke-width="1.6" />
<line x1="2037.8" y1="778.9" x2="2037.8" y2="788.9" stroke="#3648ae" stroke-width="1.6" />
<line x1="2033.3" y1="778.9" x2="2042.3" y2="778.9" stroke="#3648ae" stroke-width="1.6" />
<line x1="2033.3" y1="788.9" x2="2042.3" y2="788.9" stroke="#3648ae" stroke-width="1.6" />
<line x1="2029.8" y1="783.9" x2="2045.8" y2="783.9" stroke="#3648ae" stroke-width="1.6" />
<line x1="2029.8" y1="779.4" x2="2029.8" y2="788.4" stroke="#3648ae" stroke-width="1.6" />
<line x1="2045.8" y1="779.4" x2="2045.8" y2="788.4" stroke="#3648ae" stroke-width="1.6" />
<line x1="2083.7" y1="814.7" x2="2083.7" y2="824.7" stroke="#3648ae" stroke-width="1.6" />
<line x1="2079.2" y1="814.7" x2="2088.2" y2="814.7" stroke="#3648ae" stroke-width="1.6" />
<line x1="2079.2" y1="824.7" x2="2088.2" y2="824.7" stroke="#3648ae" stroke-width="1.6" />
<line x1="2145.7" y1="864.5" x2="2145.7" y2="874.5" stroke="#3648ae" stroke-width="1.6" />
<line x1="2141.2" y1="864.5" x2="2150.2" y2="864.5" stroke="#3648ae" stroke-width="1.6" />
<line x1="2141.2" y1="874.5" x2="2150.2" y2="874.5" stroke="#3648ae" stroke-width="1.6" />
<line x1="2204.8" y1="953.4" x2="2204.8" y2="965.4" stroke="#3648ae" stroke-width="1.6" />
<line x1="2200.3" y1="953.4" x2="2209.3" y2="953.4" stroke="#3648ae" stroke-width="1.6" />
<line x1="2200.3" y1="965.4" x2="2209.3" y2="965.4" stroke="#3648ae" stroke-width="1.6" />
<line x1="2239.9" y1="995.3" x2="2239.9" y2="1007.3" stroke="#3648ae" stroke-width="1.6" />
<line x1="2235.4" y1="995.3" x2="2244.4" y2="995.3" stroke="#3648ae" stroke-width="1.6" />
<line x1="2235.4" y1="1007.3" x2="2244.4" y2="1007.3" stroke="#3648ae" stroke-width="1.6" />
<circle cx="1904" cy="746.3" r="5.8" fill="#f0841f"/>
<circle cx="1935.7" cy="757" r="5.8" fill="#f0841f"/>
<circle cx="2009.4" cy="799.3" r="5.8" fill="#f0841f"/>
<circle cx="2105.6" cy="856.3" r="5.8" fill="#f0841f"/>
<circle cx="2213.1" cy="941.5" r="5.8" fill="#f0841f"/>
<circle cx="2307.8" cy="1104.5" r="5.8" fill="#f0841f"/>
<path d="M1981.5 768.6 L1995.5 768.6 L1988.5 781.1 Z" fill="#b341a6"/>
<path d="M2064 824.5 L2078 824.5 L2071 837 Z" fill="#b341a6"/>
<path d="M2104 853.5 L2118 853.5 L2111 866 Z" fill="#b341a6"/>
<path d="M2143.1 891.5 L2157.1 891.5 L2150.1 904 Z" fill="#b341a6"/>
<path d="M2225.1 987.1 L2239.1 987.1 L2232.1 999.6 Z" fill="#b341a6"/>
<path d="M2300.8 1102.2 L2314.8 1102.2 L2307.8 1114.8 Z" fill="#b341a6"/>
<rect x="1844.8" y="741.3" width="10" height="10" fill="#3648ae"/>
<rect x="1954.6" y="757.4" width="10" height="10" fill="#3648ae"/>
<rect x="2032.8" y="778.9" width="10" height="10" fill="#3648ae"/>
<rect x="2078.7" y="814.7" width="10" height="10" fill="#3648ae"/>
<rect x="2140.7" y="864.5" width="10" height="10" fill="#3648ae"/>
<rect x="2199.8" y="954.4" width="10" height="10" fill="#3648ae"/>
<rect x="2234.9" y="996.3" width="10" height="10" fill="#3648ae"/>
<rect x="2249.1" y="1012.1" width="10" height="10" fill="#3648ae"/>
<rect x="2278.4" y="1060.8" width="10" height="10" fill="#3648ae"/>
<rect x="2302.8" y="1099.5" width="10" height="10" fill="#3648ae"/>
<path d="M1849.8 746.7 L1855.5 746.9 L1861.2 747.2 L1867 747.5 L1872.7 747.9 L1878.4 748.4 L1884.1 748.9 L1889.9 749.5 L1895.6 750.1 L1901.3 750.9 L1907 751.7 L1912.8 752.6 L1918.5 753.6 L1924.2 754.7 L1929.9 755.8 L1935.7 757.1 L1941.4 758.4 L1947.1 759.9 L1952.8 761.4 L1958.6 763 L1964.3 764.7 L1970 766.6 L1975.7 768.5 L1981.5 770.5 L1987.2 772.7 L1992.9 774.9 L1998.6 777.3 L2004.4 779.8 L2010.1 782.4 L2015.8 785.1 L2021.5 787.9 L2027.3 790.8 L2033 793.9 L2038.7 797 L2044.4 800.3 L2050.2 803.8 L2055.9 807.3 L2061.6 811 L2067.3 814.8 L2073.1 818.7 L2078.8 822.7 L2084.5 826.9 L2090.2 831.2 L2096 835.7 L2101.7 840.3 L2107.4 845 L2113.1 849.9 L2118.9 854.9 L2124.6 860 L2130.3 865.3 L2136 870.7 L2141.8 876.2 L2147.5 882 L2153.2 887.8 L2158.9 893.8 L2164.7 899.9 L2170.4 906.2 L2176.1 912.7 L2181.8 919.3 L2187.6 926 L2193.3 932.9 L2199 940 L2204.7 947.2 L2210.5 954.5 L2216.2 962.1 L2221.9 969.7 L2227.6 977.6 L2233.4 985.6 L2239.1 993.7 L2244.8 1002 L2250.5 1010.5 L2256.3 1019.2 L2262 1028 L2267.7 1037 L2273.4 1046.1 L2279.2 1055.4 L2284.9 1064.9 L2290.6 1074.5 L2296.3 1084.3 L2302.1 1094.3 L2307.8 1104.5" fill="none" stroke="#b03aa8" stroke-width="3.5" transform="translate(-1.0 0)"/>
<path d="M1849.8 746.6 L1855.5 746.8 L1861.2 747.1 L1867 747.4 L1872.7 747.7 L1878.4 748.1 L1884.1 748.6 L1889.9 749.1 L1895.6 749.7 L1901.3 750.4 L1907 751.2 L1912.8 752 L1918.5 752.9 L1924.2 753.9 L1929.9 755 L1935.7 756.2 L1941.4 757.4 L1947.1 758.8 L1952.8 760.3 L1958.6 761.8 L1964.3 763.4 L1970 765.2 L1975.7 767 L1981.5 769 L1987.2 771.1 L1992.9 773.2 L1998.6 775.5 L2004.4 777.9 L2010.1 780.4 L2015.8 783 L2021.5 785.7 L2027.3 788.6 L2033 791.6 L2038.7 794.7 L2044.4 797.9 L2050.2 801.2 L2055.9 804.7 L2061.6 808.3 L2067.3 812 L2073.1 815.9 L2078.8 819.9 L2084.5 824 L2090.2 828.3 L2096 832.7 L2101.7 837.2 L2107.4 841.9 L2113.1 846.7 L2118.9 851.7 L2124.6 856.8 L2130.3 862.1 L2136 867.5 L2141.8 873 L2147.5 878.8 L2153.2 884.6 L2158.9 890.6 L2164.7 896.8 L2170.4 903.1 L2176.1 909.6 L2181.8 916.2 L2187.6 923 L2193.3 929.9 L2199 937.1 L2204.7 944.3 L2210.5 951.8 L2216.2 959.4 L2221.9 967.2 L2227.6 975.1 L2233.4 983.2 L2239.1 991.5 L2244.8 999.9 L2250.5 1008.6 L2256.3 1017.3 L2262 1026.3 L2267.7 1035.5 L2273.4 1044.8 L2279.2 1054.3 L2284.9 1064 L2290.6 1073.8 L2296.3 1083.9 L2302.1 1094.1 L2307.8 1104.5" fill="none" stroke="#e87f1f" stroke-width="3.5" transform="translate(1.2 0)"/>
<path d="M1849.8 746.7 L1855.5 746.9 L1861.2 747.1 L1867 747.5 L1872.7 747.8 L1878.4 748.3 L1884.1 748.8 L1889.9 749.3 L1895.6 750 L1901.3 750.7 L1907 751.5 L1912.8 752.4 L1918.5 753.4 L1924.2 754.4 L1929.9 755.5 L1935.7 756.8 L1941.4 758.1 L1947.1 759.5 L1952.8 761 L1958.6 762.6 L1964.3 764.3 L1970 766.1 L1975.7 768 L1981.5 770 L1987.2 772.1 L1992.9 774.4 L1998.6 776.7 L2004.4 779.1 L2010.1 781.7 L2015.8 784.4 L2021.5 787.2 L2027.3 790.1 L2033 793.1 L2038.7 796.2 L2044.4 799.5 L2050.2 802.9 L2055.9 806.4 L2061.6 810.1 L2067.3 813.8 L2073.1 817.8 L2078.8 821.8 L2084.5 826 L2090.2 830.3 L2096 834.7 L2101.7 839.3 L2107.4 844 L2113.1 848.8 L2118.9 853.8 L2124.6 858.9 L2130.3 864.2 L2136 869.6 L2141.8 875.2 L2147.5 880.9 L2153.2 886.7 L2158.9 892.7 L2164.7 898.9 L2170.4 905.2 L2176.1 911.6 L2181.8 918.2 L2187.6 925 L2193.3 931.9 L2199 939 L2204.7 946.2 L2210.5 953.6 L2216.2 961.2 L2221.9 968.9 L2227.6 976.7 L2233.4 984.8 L2239.1 993 L2244.8 1001.3 L2250.5 1009.9 L2256.3 1018.6 L2262 1027.4 L2267.7 1036.5 L2273.4 1045.7 L2279.2 1055 L2284.9 1064.6 L2290.6 1074.3 L2296.3 1084.2 L2302.1 1094.3 L2307.8 1104.5" fill="none" stroke="#3040a8" stroke-width="3.5" transform="translate(0 0)"/>
<rect x="1819.5" y="692.3" width="538.1" height="448.1" fill="none" stroke="#000" stroke-width="3.4"/>
<line x1="1917.2" y1="1140.4" x2="1917.2" y2="1130.4" stroke="#000" stroke-width="3" />
<line x1="1917.2" y1="692.3" x2="1917.2" y2="702.3" stroke="#000" stroke-width="3" />
<line x1="2014.8" y1="1140.4" x2="2014.8" y2="1130.4" stroke="#000" stroke-width="3" />
<line x1="2014.8" y1="692.3" x2="2014.8" y2="702.3" stroke="#000" stroke-width="3" />
<line x1="2112.5" y1="1140.4" x2="2112.5" y2="1130.4" stroke="#000" stroke-width="3" />
<line x1="2112.5" y1="692.3" x2="2112.5" y2="702.3" stroke="#000" stroke-width="3" />
<line x1="2210.1" y1="1140.4" x2="2210.1" y2="1130.4" stroke="#000" stroke-width="3" />
<line x1="2210.1" y1="692.3" x2="2210.1" y2="702.3" stroke="#000" stroke-width="3" />
<line x1="2307.8" y1="1140.4" x2="2307.8" y2="1130.4" stroke="#000" stroke-width="3" />
<line x1="2307.8" y1="692.3" x2="2307.8" y2="702.3" stroke="#000" stroke-width="3" />
<line x1="1868.3" y1="1140.4" x2="1868.3" y2="1134.9" stroke="#000" stroke-width="3" />
<line x1="1868.3" y1="692.3" x2="1868.3" y2="697.8" stroke="#000" stroke-width="3" />
<line x1="1966" y1="1140.4" x2="1966" y2="1134.9" stroke="#000" stroke-width="3" />
<line x1="1966" y1="692.3" x2="1966" y2="697.8" stroke="#000" stroke-width="3" />
<line x1="2063.7" y1="1140.4" x2="2063.7" y2="1134.9" stroke="#000" stroke-width="3" />
<line x1="2063.7" y1="692.3" x2="2063.7" y2="697.8" stroke="#000" stroke-width="3" />
<line x1="2161.3" y1="1140.4" x2="2161.3" y2="1134.9" stroke="#000" stroke-width="3" />
<line x1="2161.3" y1="692.3" x2="2161.3" y2="697.8" stroke="#000" stroke-width="3" />
<line x1="2259" y1="1140.4" x2="2259" y2="1134.9" stroke="#000" stroke-width="3" />
<line x1="2259" y1="692.3" x2="2259" y2="697.8" stroke="#000" stroke-width="3" />
<line x1="1819.5" y1="1104.5" x2="1829.5" y2="1104.5" stroke="#000" stroke-width="3" />
<line x1="2357.6" y1="1104.5" x2="2347.6" y2="1104.5" stroke="#000" stroke-width="3" />
<line x1="1819.5" y1="1032.9" x2="1829.5" y2="1032.9" stroke="#000" stroke-width="3" />
<line x1="2357.6" y1="1032.9" x2="2347.6" y2="1032.9" stroke="#000" stroke-width="3" />
<line x1="1819.5" y1="961.2" x2="1829.5" y2="961.2" stroke="#000" stroke-width="3" />
<line x1="2357.6" y1="961.2" x2="2347.6" y2="961.2" stroke="#000" stroke-width="3" />
<line x1="1819.5" y1="889.6" x2="1829.5" y2="889.6" stroke="#000" stroke-width="3" />
<line x1="2357.6" y1="889.6" x2="2347.6" y2="889.6" stroke="#000" stroke-width="3" />
<line x1="1819.5" y1="817.9" x2="1829.5" y2="817.9" stroke="#000" stroke-width="3" />
<line x1="2357.6" y1="817.9" x2="2347.6" y2="817.9" stroke="#000" stroke-width="3" />
<line x1="1819.5" y1="746.3" x2="1829.5" y2="746.3" stroke="#000" stroke-width="3" />
<line x1="2357.6" y1="746.3" x2="2347.6" y2="746.3" stroke="#000" stroke-width="3" />
<line x1="1819.5" y1="1068.7" x2="1825" y2="1068.7" stroke="#000" stroke-width="3" />
<line x1="2357.6" y1="1068.7" x2="2352.1" y2="1068.7" stroke="#000" stroke-width="3" />
<line x1="1819.5" y1="997" x2="1825" y2="997" stroke="#000" stroke-width="3" />
<line x1="2357.6" y1="997" x2="2352.1" y2="997" stroke="#000" stroke-width="3" />
<line x1="1819.5" y1="925.4" x2="1825" y2="925.4" stroke="#000" stroke-width="3" />
<line x1="2357.6" y1="925.4" x2="2352.1" y2="925.4" stroke="#000" stroke-width="3" />
<line x1="1819.5" y1="853.8" x2="1825" y2="853.8" stroke="#000" stroke-width="3" />
<line x1="2357.6" y1="853.8" x2="2352.1" y2="853.8" stroke="#000" stroke-width="3" />
<line x1="1819.5" y1="782.1" x2="1825" y2="782.1" stroke="#000" stroke-width="3" />
<line x1="2357.6" y1="782.1" x2="2352.1" y2="782.1" stroke="#000" stroke-width="3" />
<line x1="1819.5" y1="710.5" x2="1825" y2="710.5" stroke="#000" stroke-width="3" />
<line x1="2357.6" y1="710.5" x2="2352.1" y2="710.5" stroke="#000" stroke-width="3" />
<text x="1808.5" y="1114.7" font-size="33.5" text-anchor="end" fill="#000" textLength="44.2" lengthAdjust="spacingAndGlyphs" >0.0</text>
<text x="1808.5" y="1043.1" font-size="33.5" text-anchor="end" fill="#000" textLength="44.2" lengthAdjust="spacingAndGlyphs" >0.2</text>
<text x="1808.5" y="971.4" font-size="33.5" text-anchor="end" fill="#000" textLength="44.2" lengthAdjust="spacingAndGlyphs" >0.4</text>
<text x="1808.5" y="899.8" font-size="33.5" text-anchor="end" fill="#000" textLength="44.2" lengthAdjust="spacingAndGlyphs" >0.6</text>
<text x="1808.5" y="828.1" font-size="33.5" text-anchor="end" fill="#000" textLength="44.2" lengthAdjust="spacingAndGlyphs" >0.8</text>
<text x="1808.5" y="756.5" font-size="33.5" text-anchor="end" fill="#000" textLength="44.2" lengthAdjust="spacingAndGlyphs" >1.0</text>
<text x="1819" y="1177" font-size="33.5" text-anchor="middle" fill="#000" textLength="44.2" lengthAdjust="spacingAndGlyphs" >0.0</text>
<text x="1916.7" y="1177" font-size="33.5" text-anchor="middle" fill="#000" textLength="44.2" lengthAdjust="spacingAndGlyphs" >0.2</text>
<text x="2014.3" y="1177" font-size="33.5" text-anchor="middle" fill="#000" textLength="44.2" lengthAdjust="spacingAndGlyphs" >0.4</text>
<text x="2112" y="1177" font-size="33.5" text-anchor="middle" fill="#000" textLength="44.2" lengthAdjust="spacingAndGlyphs" >0.6</text>
<text x="2209.6" y="1177" font-size="33.5" text-anchor="middle" fill="#000" textLength="44.2" lengthAdjust="spacingAndGlyphs" >0.8</text>
<text x="2307.3" y="1177" font-size="33.5" text-anchor="middle" fill="#000" textLength="44.2" lengthAdjust="spacingAndGlyphs" >1.0</text>
<text x="2074" y="1226.8" font-size="35.5" text-anchor="middle" fill="#000" textLength="62.6" lengthAdjust="spacingAndGlyphs" >T/T<tspan font-size="0.5em">0</tspan></text>
<text x="1741" y="1033" font-size="36" text-anchor="start" fill="#000" textLength="85" lengthAdjust="spacingAndGlyphs" transform="rotate(-90 1741 1033)" ><tspan font-family="Liberation Serif" font-weight="normal" font-size="1.0em">Δ</tspan>V<tspan font-size="0.42em">0p</tspan> /</text>
<text x="1741" y="937.4" font-size="36" text-anchor="start" fill="#e8211f" textLength="162.5" lengthAdjust="spacingAndGlyphs" transform="rotate(-90 1741 937.4)" ><tspan font-family="Liberation Serif" font-weight="normal" font-size="1.0em">Δ</tspan>V<tspan font-size="0.45em">0</tspan> (T=0)</text>
<path d="M1898.9 909 L1913.9 909 L1906.4 922 Z" fill="#b341a6"/>
<circle cx="1906.4" cy="961.6" r="6" fill="#f0841f"/>
<rect x="1901" y="1002.8" width="10.6" height="10.6" fill="#3648ae"/>
<text x="1936" y="922" font-size="35" text-anchor="start" fill="#000" textLength="41.5" lengthAdjust="spacingAndGlyphs" >S2</text>
<text x="1936" y="967.6" font-size="35" text-anchor="start" fill="#000" textLength="42.5" lengthAdjust="spacingAndGlyphs" >S4</text>
<text x="1936" y="1013.6" font-size="35" text-anchor="start" fill="#000" textLength="38.5" lengthAdjust="spacingAndGlyphs" >S1</text>
<line x1="1887" y1="1028" x2="1923" y2="1028" stroke="#b03aa8" stroke-width="3.6" stroke-linecap="round"/>
<line x1="1887" y1="1039.6" x2="1923" y2="1039.6" stroke="#e87f1f" stroke-width="3.6" stroke-linecap="round"/>
<line x1="1887" y1="1051.2" x2="1923" y2="1051.2" stroke="#3040a8" stroke-width="3.6" stroke-linecap="round"/>
<text x="1947" y="1061" font-size="36.5" text-anchor="start" fill="#000" textLength="108" lengthAdjust="spacingAndGlyphs" >Fitting</text>
<text x="1706.8" y="726" font-size="55.5" text-anchor="middle" fill="#000" textLength="66" lengthAdjust="spacingAndGlyphs" >(e)</text>
</g>
</g>
</svg></body></html>
